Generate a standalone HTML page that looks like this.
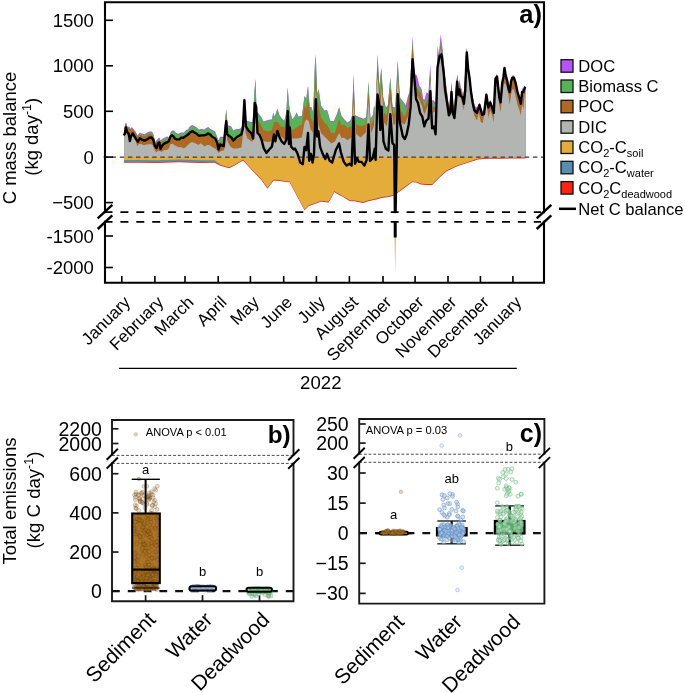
<!DOCTYPE html>
<html><head><meta charset="utf-8"><style>
html,body{margin:0;padding:0;background:#fff;}
svg{display:block;font-family:"Liberation Sans",sans-serif;will-change:transform;}
text{fill:#000;}
</style></head><body>
<svg width="685" height="693" viewBox="0 0 685 693">
<rect width="685" height="693" fill="#fff"/>
<polygon fill="#B753FD" points="124.1,157.1 124.1,127.9 126,121.9 127.1,126.3 128.7,126.8 129.5,127.1 130.3,128.2 130.7,128.7 131.9,127.1 133.5,129 135.5,131.4 135.9,132.2 137.1,134.6 137.5,135.4 139,133.6 139.8,132.6 141.4,133.4 142.2,133.8 143.8,134.1 144.6,134.2 147,132.6 149.4,131.4 150.2,131.4 151.7,131.4 152.5,132.6 153.3,133.8 154.9,140.1 155.3,141.7 156.5,140.3 157.3,139.4 158.1,138.6 159.3,137.4 159.7,138.3 160.5,140.2 161.3,139.7 162.9,138.6 164.4,137.8 166,137 167,136.2 167.4,136.5 167.6,136.7 169,137.8 169.4,136.4 170.6,132.2 172.1,130.6 172.9,130.6 174.1,130.6 175.3,132 176.1,133 178.5,133.8 180.9,132.6 184,132.6 186.4,129.8 188,129.4 188.8,128 189.6,126.7 192,125.1 194.4,125.9 196.7,127.5 198.3,128.8 199.1,129.4 199.9,129.3 200.7,129.1 201.5,129 202.3,129.1 203.1,129.3 203.9,129.4 204.7,128.9 206.3,127.9 207.1,127.6 208.3,127.1 209.4,128 210.6,129 211,129.2 212.6,130.1 213.4,130.6 215,131.4 215.1,131.4 217.1,136.5 218.6,140.5 220.2,136.5 223.7,137 225.2,120.3 226.2,108.7 227.2,120.3 228.2,125.4 230.3,126.1 231.3,126.4 233.3,130.4 235.3,129.4 236.3,128.9 237.3,128.9 239.3,128.9 241.4,127.4 241.9,126 242.4,124.7 242.9,123.3 244.4,97.1 245.4,112.6 245.9,120.3 246.4,120.5 247.4,120.9 248.4,121.3 249.4,121.5 250.5,121.8 252.5,122.3 253.4,110 254.5,90 254.8,86.5 255.5,78.2 256.2,99.1 256.6,111.1 257.5,112.2 258.2,113 258.9,113.8 261,116.6 263.7,121.4 267.8,120 271.9,119.3 273.3,112.5 274,114.5 274.7,116.6 277.4,108.4 279.5,115.2 280.8,117 281.5,117.9 284.2,120.7 284.9,118 286.3,112.5 287,99.8 287.7,87.1 288.4,96.3 289,104.2 289.7,108.3 290.4,112.5 292.5,119.3 294.5,116.6 296.6,112.5 296.7,112.3 298.5,116.6 301.9,115.7 304.5,95.8 306.2,98.4 308,85.5 308.8,95.7 309.7,107.1 310.6,107.1 311.4,107.1 313.2,112.3 314.9,63.8 315.8,54.3 317,93.3 318.4,89.7 318.7,88.9 321,105.4 324.4,110.6 327,109.7 327.9,112.6 330.5,120.9 331.3,120.9 333.9,120.9 334.8,118.8 336.5,114.9 339.1,107.1 341.4,115.7 341.7,116.1 343.8,118.8 347.5,122.5 350.3,120.6 351.3,117.7 352.2,115 353.5,73.8 355,115 355.9,115.4 358.8,116.9 360.6,117.6 363.4,118.8 366.3,116.9 368.5,81.3 370.4,118.8 370.9,118 372.8,115 373.8,107.8 374.1,105.6 375.6,109.4 377.5,54.1 379.4,86.9 380.3,77.6 381.3,67.2 381.6,72.1 383.1,96.3 384.1,100.3 385.9,107.5 386.9,106.5 387.8,105.6 390.3,77.5 392.5,106.6 393.4,106.9 395.3,107.5 395.5,103.6 397.7,60.1 399.9,97.2 400.9,98.5 402.8,101.1 404.8,103.8 405.7,105 407.7,97.2 408.7,94.1 409.6,91.3 412.6,37.6 412.7,35.8 414.1,67.9 414.5,70.3 415.4,75.6 415.5,75.6 416.7,75 418,79.5 419.3,86 420.4,87.1 420.6,87.3 421.9,90 423.2,99 424.3,99.6 424.5,99.7 426.4,92.5 428.2,93.1 428.4,93.2 430.3,64 431.6,100.3 433,100.3 433.6,100.3 435.5,102.9 436,89.4 436.8,67.9 437.5,45.8 437.9,48.2 438.9,54.3 440.7,34.2 440.8,35 442.8,50.4 443.8,61.6 445,75.1 445.5,79.1 446.3,85.5 447.6,95.6 448.3,101.1 449.6,106.3 450.9,89.4 451.2,85.5 451.5,81.6 452.8,102.4 454.1,106.3 454.4,102.8 456.1,82.9 457.4,73.8 458.7,86.8 459.6,79 460,82.1 460.6,86.8 461.9,89.4 463.2,95.9 463.9,90.3 464.5,85.5 465.2,69.4 465.8,55.6 466.8,47.2 468.4,66 469.7,73.8 470.4,80.8 471,86.8 472.3,93.6 473,97.2 474.3,103.4 474.9,106.3 476.9,107.3 477.5,107.6 478.8,104.2 479.5,102.4 480.8,107 482.1,111.5 482.7,110.7 484,108.9 484.7,103 486,92 486.6,94.9 487.6,99.8 488.3,101.9 488.9,103.7 490.2,100.5 490.5,99.8 492.2,105 493.5,109.2 493.8,110.2 495.4,79 496.7,73.8 498,79 499.3,92 500.6,101.1 502.2,81.6 503.2,73.8 503.9,70 504.5,66.7 505.2,70.5 505.8,73.8 506.5,74.5 507.1,75.1 508.4,82.9 509.7,90.7 511,80.3 512.3,75.8 513.9,75.1 515.6,80.3 517.5,88.1 519.5,97.2 520.8,99.8 522.1,88.1 523.4,89.4 524.7,85.5 525.3,86.8 525.3,157.1"/>
<polygon fill="#54B456" points="124.1,157.1 124.1,128.9 126,122.9 127.1,127.3 128.7,127.8 129.5,128.1 130.3,129.2 130.7,129.7 131.9,128.1 133.5,130 135.5,132.4 135.9,133.2 137.1,135.6 137.5,136.4 139,134.6 139.8,133.6 141.4,134.4 142.2,134.8 143.8,135.1 144.6,135.2 147,133.6 149.4,132.4 150.2,132.4 151.7,132.4 152.5,133.6 153.3,134.8 154.9,141.1 155.3,142.7 156.5,141.3 157.3,140.4 158.1,139.6 159.3,138.4 159.7,139.3 160.5,141.2 161.3,140.7 162.9,139.6 164.4,138.8 166,138 167,137.2 167.4,137.5 167.6,137.7 169,138.8 169.4,137.4 170.6,133.2 172.1,131.6 172.9,131.6 174.1,131.6 175.3,133 176.1,134 178.5,134.8 180.9,133.6 184,133.6 186.4,130.8 188,130.4 188.8,129 189.6,127.7 192,126.1 194.4,126.9 196.7,128.5 198.3,129.8 199.1,130.4 199.9,130.3 200.7,130.1 201.5,130 202.3,130.1 203.1,130.3 203.9,130.4 204.7,129.9 206.3,128.9 207.1,128.6 208.3,128.1 209.4,129 210.6,130 211,130.2 212.6,131.1 213.4,131.6 215,132.4 215.1,132.4 217.1,137.5 218.6,141.5 220.2,137.5 223.7,138 225.2,121.3 226.2,109.7 227.2,121.3 228.2,126.4 230.3,127.1 231.3,127.4 233.3,131.4 235.3,130.4 236.3,129.9 237.3,129.9 239.3,129.9 241.4,128.4 241.9,127 242.4,125.7 242.9,124.3 244.4,98.1 245.4,113.6 245.9,121.3 246.4,121.5 247.4,121.9 248.4,122.3 249.4,122.5 250.5,122.8 252.5,123.3 253.4,111 254.5,91 254.8,87.5 255.5,79.2 256.2,100.1 256.6,112.1 257.5,113.2 258.2,114 258.9,114.8 261,117.6 263.7,122.4 267.8,121 271.9,120.3 273.3,113.5 274,115.5 274.7,117.6 277.4,109.4 279.5,116.2 280.8,118 281.5,118.9 284.2,121.7 284.9,119 286.3,113.5 287,100.8 287.7,88.1 288.4,97.3 289,105.2 289.7,109.3 290.4,113.5 292.5,120.3 294.5,117.6 296.6,113.5 296.7,113.3 298.5,117.6 301.9,116.7 304.5,96.8 306.2,99.4 308,86.5 308.8,96.7 309.7,108.1 310.6,108.1 311.4,108.1 313.2,113.3 314.9,64.8 315.8,55.3 317,94.3 318.4,90.7 318.7,89.9 321,106.4 324.4,111.6 327,110.7 327.9,113.6 330.5,121.9 331.3,121.9 333.9,121.9 334.8,119.8 336.5,115.9 339.1,108.1 341.4,116.7 341.7,117.1 343.8,119.8 347.5,123.5 350.3,121.6 351.3,118.7 352.2,116 353.5,74.8 355,116 355.9,116.4 358.8,117.9 360.6,118.6 363.4,119.8 366.3,117.9 368.5,82.3 370.4,119.8 370.9,119 372.8,116 373.8,108.8 374.1,106.6 375.6,110.4 377.5,55.1 379.4,87.9 380.3,78.6 381.3,68.2 381.6,73.1 383.1,97.3 384.1,101.3 385.9,108.5 386.9,107.5 387.8,106.6 390.3,78.5 392.5,107.6 393.4,107.9 395.3,108.5 395.5,104.6 397.7,61.1 399.9,98.2 400.9,99.5 402.8,102.1 404.8,104.8 405.7,111.2 407.7,104.4 408.7,95.9 409.6,93.1 412.6,39.6 412.7,43.4 414.1,69.7 414.5,72.1 415.4,81.6 415.5,83 416.7,84.9 418,87 419.3,88 420.4,89.1 420.6,89.3 421.9,96 423.2,101 424.3,101.6 424.5,101.7 426.4,100.2 428.2,95.1 428.4,95.2 430.3,71.3 431.6,102.1 433,102.3 433.6,102.3 435.5,104.9 436,104.4 436.8,84.7 437.5,67.5 437.9,57.6 438.9,56.1 440.7,42.5 440.8,42 442.8,52.4 443.8,63.6 445,77.1 445.5,81.1 446.3,87.5 447.6,97.6 448.3,103.1 449.6,108.3 450.9,91.4 451.2,87.5 451.5,83.6 452.8,104.4 454.1,108.3 454.4,104.8 456.1,84.9 457.4,75.8 458.7,88.8 459.6,81 460,84.1 460.6,88.8 461.9,91.4 463.2,97.9 463.9,92.3 464.5,87.5 465.2,71.4 465.8,57.6 466.8,49.2 468.4,68 469.7,75.8 470.4,82.8 471,88.8 472.3,95.6 473,99.2 474.3,105.4 474.9,108.3 476.9,109.3 477.5,109.6 478.8,106.2 479.5,104.4 480.8,109 482.1,113.5 482.7,112.7 484,110.9 484.7,105 486,94 486.6,96.9 487.6,101.8 488.3,103.9 488.9,105.7 490.2,102.5 490.5,101.8 492.2,107 493.5,111.2 493.8,112.2 495.4,81 496.7,75.8 498,81 499.3,94 500.6,103.1 502.2,83.6 503.2,75.8 503.9,72 504.5,68.7 505.2,72.5 505.8,75.8 506.5,76.5 507.1,77.1 508.4,84.9 509.7,92.7 511,82.3 512.3,77.8 513.9,77.1 515.6,82.3 517.5,90.1 519.5,99.2 520.8,101.8 522.1,90.1 523.4,91.4 524.7,87.5 525.3,88.8 525.3,157.1"/>
<polygon fill="#AE6923" points="124.1,157.1 124.1,129 126,123.5 127.1,127.9 128.7,128.6 129.5,129 130.3,129.2 130.7,129.7 131.9,128.3 133.5,130.6 135.5,133.3 135.9,133.8 137.1,136.2 137.5,137 139,135.4 139.8,134.6 141.4,135.4 142.2,135.8 143.8,136.1 144.6,136.2 147,135 149.4,134.2 150.2,134.2 151.7,134.2 152.5,135.2 153.3,136.2 154.9,141.6 155.3,142.9 156.5,142.2 157.3,141.7 158.1,141.3 159.3,140.6 159.7,141 160.5,141.7 161.3,142.5 162.9,141.7 164.4,141 166,140.8 167,140.7 167.4,140.6 167.6,140.3 169,138.8 169.4,137.4 170.6,135.4 172.1,134.6 172.9,135.2 174.1,136.2 175.3,137.6 176.1,138.6 178.5,139.4 180.9,137.8 184,137.4 186.4,136.2 188,135.1 188.8,134.6 189.6,133.9 192,131.8 194.4,133 196.7,134.6 198.3,135.4 199.1,135.8 199.9,136.2 200.7,135.9 201.5,135.7 202.3,135.4 203.1,135.5 203.9,135.7 204.7,135.8 206.3,134.9 207.1,134.5 208.3,133.8 209.4,134.5 210.6,135.2 211,135.4 212.6,136.5 213.4,137.1 215,138.2 215.1,138.4 217.1,142.5 218.6,142.5 220.2,142.5 223.7,142.5 225.2,128 226.2,116.3 227.2,128 228.2,134.4 230.3,136.5 231.3,137.5 233.3,138.5 235.3,139.5 236.3,139.2 237.3,139 239.3,138.5 241.4,132 241.9,130.4 242.4,125.7 242.9,124.3 244.4,102.1 245.4,115.2 245.9,121.8 246.4,128.4 247.4,129.1 248.4,129.7 249.4,130.4 250.5,131.1 252.5,132.5 253.4,120.1 254.5,105 254.8,102.7 255.5,97.4 256.2,105.6 256.6,112.1 257.5,120.7 258.2,121.5 258.9,122.3 261,124.8 263.7,130.3 267.8,131.6 271.9,130.3 273.3,124.8 274,122.1 274.7,122.1 277.4,122.1 279.5,124.6 280.8,126.2 281.5,126.5 284.2,127.5 284.9,124.2 286.3,117.7 287,114.4 287.7,111.1 288.4,115.9 289,120 289.7,124.8 290.4,126.2 292.5,130.3 294.5,128.9 296.6,127.5 296.7,127.4 298.5,126.1 301.9,124.4 304.5,105.4 306.2,108.8 308,98.4 308.8,104.3 309.7,110.9 310.6,117.5 311.4,119.1 313.2,122.7 314.9,86.5 315.8,67.3 317,94.3 318.4,105.4 318.7,106.8 321,117.5 324.4,122.7 327,125.2 327.9,126.1 330.5,131.4 331.3,133 333.9,133 334.8,133 336.5,127.5 339.1,119.2 341.4,125.3 341.7,126.1 343.8,124.4 347.5,128.1 350.3,126.8 351.3,126.3 352.2,116 353.5,86.9 355,116 355.9,124.4 358.8,125.6 360.6,126.3 363.4,125.4 366.3,124.4 368.5,92.5 370.4,119.8 370.9,126.3 372.8,121.4 373.8,118.8 374.1,114.4 375.6,110.4 377.5,64.4 379.4,87.9 380.3,98.1 381.3,82.3 381.6,77.5 383.1,98.9 384.1,113.1 385.9,114.3 386.9,115 387.8,108.1 390.3,88.8 392.5,107.6 393.4,115 395.3,111.4 395.5,111 397.7,73.8 399.9,99.2 400.9,110.8 402.8,113.7 404.8,116.7 405.7,113.7 407.7,106.9 408.7,95.9 409.6,93.1 412.6,44.5 412.7,45.9 414.1,69.7 414.5,72.1 415.4,84.1 415.5,85.5 416.7,87.4 418,89.5 419.3,91.5 420.4,93.3 420.6,94 421.9,98.5 423.2,103.1 424.3,106.9 424.5,106.5 426.4,102.7 428.2,99.1 428.4,96.7 430.3,73.8 431.6,102.1 433,106.9 433.6,106.9 435.5,106.9 436,106.9 436.8,87.2 437.5,70 437.9,60.1 438.9,56.1 440.7,45 440.8,44.5 442.8,57.5 443.8,64 445,77.1 445.5,81.1 446.3,87.5 447.6,97.6 448.3,103.1 449.6,108.3 450.9,91.4 451.2,87.5 451.5,83.6 452.8,104.4 454.1,108.3 454.4,104.8 456.1,84.9 457.4,75.8 458.7,88.8 459.6,81 460,84.1 460.6,88.8 461.9,91.4 463.2,97.9 463.9,92.3 464.5,87.5 465.2,71.4 465.8,57.6 466.8,49.2 468.4,68 469.7,75.8 470.4,82.8 471,88.8 472.3,95.6 473,99.2 474.3,105.4 474.9,108.3 476.9,109.3 477.5,109.6 478.8,106.2 479.5,104.4 480.8,109 482.1,113.5 482.7,112.7 484,110.9 484.7,105 486,94 486.6,96.9 487.6,101.8 488.3,103.9 488.9,105.7 490.2,102.5 490.5,101.8 492.2,107 493.5,111.2 493.8,112.2 495.4,81 496.7,75.8 498,81 499.3,94 500.6,103.1 502.2,83.6 503.2,75.8 503.9,72 504.5,68.7 505.2,72.5 505.8,75.8 506.5,76.5 507.1,77.1 508.4,84.9 509.7,92.7 511,82.3 512.3,77.8 513.9,77.1 515.6,82.3 517.5,90.1 519.5,99.2 520.8,101.8 522.1,90.1 523.4,91.4 524.7,87.5 525.3,88.8 525.3,157.1"/>
<polygon fill="#B3B5B3" points="124.1,157.1 124.1,137 126,129.8 127.1,134.2 128.7,136.2 129.5,135 130.3,133.8 130.7,134.2 131.9,135.4 133.5,137.8 135.5,141 135.9,141.7 137.1,146.1 137.5,145.7 139,144.1 139.8,144.1 141.4,144.1 142.2,144.5 143.8,145.3 144.6,145.1 147,144.5 149.4,144.2 150.2,144.1 151.7,144.6 152.5,144.9 153.3,146.8 154.9,150.5 155.3,151 156.5,152.5 157.3,151.5 158.1,150.5 159.3,151.1 159.7,151.3 160.5,151.5 161.3,151.7 162.9,150.9 164.4,150.1 166,149.9 167,149.8 167.4,149.7 167.6,149.7 169,148.1 169.4,147.1 170.6,144.1 172.1,144.1 172.9,144.1 174.1,144.9 175.3,145.7 176.1,146.1 178.5,147.3 180.9,146.9 184,148.5 186.4,146.5 188,144.9 188.8,144.1 189.6,143.3 192,142.1 194.4,142.9 196.7,144.1 198.3,144.9 199.1,144.4 199.9,143.8 200.7,143.3 201.5,143.8 202.3,144.4 203.1,144.9 203.9,145.7 204.7,146.5 206.3,145.4 207.1,144.9 208.3,144.9 209.4,144.9 210.6,145.8 211,146.1 212.6,147.3 213.4,147.7 215,148.5 215.1,148.6 217.1,150.6 218.6,153.1 220.2,151.6 223.7,150.6 225.2,146.6 226.2,120.3 227.2,140.5 228.2,142.5 230.3,146.6 231.3,147.3 233.3,148.6 235.3,148.6 236.3,148.6 237.3,148.6 239.3,148.1 241.4,147.6 241.9,143.6 242.4,139.5 242.9,130.7 244.4,104.1 245.4,132.4 245.9,133.9 246.4,135.4 247.4,138.5 248.4,139.1 249.4,139.8 250.5,140.5 252.5,142 253.4,137.1 254.5,116.7 254.8,111.1 255.5,119.3 256.2,127.5 256.6,128.9 257.5,132 258.2,134.4 258.9,135.4 261,138.5 263.7,141.2 267.8,141.9 271.9,141.2 273.3,136.7 274,134.4 274.7,133.8 277.4,131.6 279.5,134.4 280.8,136.2 281.5,137.1 284.2,139.3 284.9,139.9 286.3,131.6 287,127.5 287.7,119.3 288.4,111.1 289,122.5 289.7,135.8 290.4,136.5 292.5,138.5 294.5,138.5 296.6,138.5 296.7,138.5 298.5,138.2 301.9,137.4 304.5,122.7 306.2,119.2 308,120.4 308.8,120.9 309.7,125.2 310.6,129.6 311.4,130.6 313.2,133 314.9,103.6 315.8,88.1 317,104.9 318.4,124.4 318.7,125.4 321,133 324.4,136.5 327,139.1 327.9,140 330.5,142.6 331.3,143.4 333.9,142.1 334.8,141.7 336.5,138.3 339.1,133 341.4,137.6 341.7,138.2 343.8,137.5 347.5,140.3 350.3,138.2 351.3,137.5 352.2,122.9 353.5,101.9 355,121.8 355.9,133.8 358.8,136.1 360.6,137.5 363.4,134.7 366.3,131.9 368.5,101.9 370.4,127.2 370.9,133.8 372.8,128.9 373.8,126.3 374.1,122.2 375.6,101.6 377.5,75.6 379.4,99.8 380.3,111.3 381.3,92.5 381.6,86.9 383.1,108.3 384.1,122.5 385.9,124.9 386.9,126.3 387.8,119.3 390.3,100 392.5,117.3 393.4,124.4 395.3,124.5 395.5,124.5 397.7,77.7 399.9,108.5 400.9,122.5 402.8,123.5 404.8,124.5 405.7,122.2 407.7,117.2 408.7,114.7 409.6,101.2 412.6,56.2 412.7,57.7 414.1,78.9 414.5,85 415.4,92.9 415.5,93.8 416.7,95.3 418,97 419.3,99.8 420.4,102.2 420.6,102.7 421.9,105.5 423.2,110.5 424.3,114.7 424.5,114.2 426.4,109.5 428.2,105 428.4,102.6 430.3,79.6 431.6,95.6 433,112.8 433.6,112.4 435.5,111.1 436,110.8 436.8,93.6 437.5,78.5 437.9,69.9 438.9,62.5 440.7,49.1 440.8,48.4 442.8,62.7 443.8,69.9 445,84.1 445.5,90 446.3,96.7 447.6,107.6 448.3,110.3 449.6,115.4 450.9,99.6 451.2,95.9 451.5,99.1 452.8,112.8 454.1,117 454.4,118 456.1,94.6 457.4,88.1 458.7,98.5 459.6,96.7 460,95.9 460.6,98 461.9,102.4 463.2,107.5 463.9,110.2 464.5,103.6 465.2,95.9 465.8,81.3 466.8,56.9 468.4,79 469.7,85.8 470.4,89.4 471,94.3 472.3,105 473,108.6 474.3,115.4 474.9,116.6 476.9,120.6 477.5,118.1 478.8,112.8 479.5,116 480.8,121.9 482.1,122.8 482.7,123.2 484,116.4 484.7,112.8 486,104.7 486.6,101 487.6,111 488.3,118 488.9,115.5 490.2,110.2 490.5,111 492.2,115.4 493.5,122.6 493.8,117.4 495.4,89.4 496.7,85.5 498,94.6 499.3,105 500.6,112.8 502.2,94.6 503.2,88.5 503.9,84.2 504.5,83.6 505.2,82.9 505.8,84.7 506.5,86.8 507.1,89.3 508.4,94.6 509.7,105 511,94.6 512.3,89.4 513.9,89.4 515.6,95.9 517.5,105 519.5,110.2 520.8,115.4 522.1,105 523.4,108.9 524.7,94.6 525.3,93.3 525.3,157.1"/>
<polygon fill="#FD2212" points="124,157.1 124,162.8 140,162.8 156,163.1 179,162.2 200,163.1 214.6,162.8 218,164.6 221,166 229.2,168.2 235,165.3 243.1,160.5 254,172.6 261.3,179.9 267.4,188.7 273.7,180.4 279.6,181 284.4,181.8 289.6,182.3 304.5,210.3 308.9,205.9 313.3,204.6 316.8,203.3 321.2,201.5 323.8,202 328.2,202.4 330.4,199.8 334.3,191.9 336.1,193.2 340,195.4 342,196.3 349.9,201.2 354.3,201.2 363,202.9 368.3,201.2 376.2,199.4 382.3,197.7 387.6,197.2 392.8,195.9 395.4,194.5 405.1,187.5 412.1,182.3 416.5,182.6 420.8,184.4 426.1,184.9 432.2,184.9 440.1,177 447.1,170.9 457.8,166.1 467.9,162.8 478,159.4 488,158.7 501.5,158.7 524.3,158.4 525.3,158.4 525.3,157.1"/>
<polygon fill="#568EAE" points="124,157.1 124,162 140,162 156,162.3 179,161.4 200,162.3 214.6,162 218,163.8 221,165.2 229.2,167.4 235,164.5 243.1,159.7 254,171.8 261.3,179.1 267.4,187.9 273.7,179.6 279.6,180.2 284.4,181 289.6,181.5 304.5,209.5 308.9,205.1 313.3,203.8 316.8,202.5 321.2,200.7 323.8,201.2 328.2,201.6 330.4,199 334.3,191.1 336.1,192.4 340,194.6 342,195.5 349.9,200.4 354.3,200.4 363,202.1 368.3,200.4 376.2,198.6 382.3,196.9 387.6,196.4 392.8,195.1 395.4,193.7 405.1,186.7 412.1,181.5 416.5,181.8 420.8,183.6 426.1,184.1 432.2,184.1 440.1,176.2 447.1,170.1 457.8,165.3 467.9,162 478,158.6 488,157.9 501.5,157.9 524.3,157.6 525.3,157.6 525.3,157.1"/>
<polygon fill="#E4AC38" points="124,157.1 124,160 140,160 156,160.3 179,159.4 200,160.3 214.6,160.2 218,162.8 221,164.9 229.2,167.3 235,164.4 243.1,159.6 254,171.7 261.3,179 267.4,187.8 273.7,179.5 279.6,180.1 284.4,180.9 289.6,181.4 304.5,209.4 308.9,205 313.3,203.7 316.8,202.4 321.2,200.6 323.8,201.1 328.2,201.5 330.4,198.9 334.3,191 336.1,192.3 340,194.5 342,195.4 349.9,200.3 354.3,200.3 363,202 368.3,200.3 376.2,198.5 382.3,196.8 387.6,196.3 392.8,195 395.4,193.6 405.1,186.6 412.1,181.4 416.5,181.7 420.8,183.5 426.1,184 432.2,184 440.1,176.1 447.1,170 457.8,165.2 467.9,161.9 478,158.5 488,157.8 501.5,157.8 524.3,157.5 525.3,157.5 525.3,157.1"/>
<polygon fill="#E4AC38" points="393.8,157 396.6,157 395.2,212"/>
<line x1="103.6" y1="157.1" x2="544" y2="157.1" stroke="#3a3a3a" stroke-width="1.1" stroke-dasharray="4.4 3.7"/>
<polyline fill="none" stroke="#000" stroke-width="2.4" stroke-linejoin="round" points="123.6,135.4 124.8,133.8 126,127.5 127.1,132.2 128.7,133.8 129.9,141 131.1,136.2 132.7,133.4 134.3,136.2 135.9,138.6 137.9,141.7 139.8,138.2 142.2,139.8 144.6,140.6 147,139.4 149.4,137.8 151.7,137.4 153.3,140.2 154.9,146.1 156.5,148.1 158.1,143.3 159.3,142.5 160.5,148.9 162.1,145.7 164.4,143.3 166.8,142.5 168.8,141.3 170.2,137 171.7,135.4 173.3,136.2 174.9,138.6 176.9,139.4 179.3,139.4 180.9,137.8 183.3,137.8 185.6,136.2 188,134.6 190.4,132.2 192.4,131 194.4,132.6 196.7,133.8 199.1,135.8 201.5,135.4 203.9,135.4 206.3,134.6 208.3,133.4 210.2,134.6 212.6,137 215,138.2 217.1,142.5 218.6,149.6 220.2,144.5 222.2,145.6 223.7,146.1 225.2,130.4 226.2,121.3 227.2,134.4 229.2,136 231.3,137.5 233.3,140.5 236.3,137.5 239.3,135.5 241.4,134.4 242.9,128.4 244.4,100.1 245.9,126.4 248.4,130.4 251.5,133.4 253.2,138.5 254.8,102.9 256.2,107 257.5,133 259.6,135.1 261.6,139.9 263.7,148.1 266.4,152.9 269.2,149.5 271.9,146.7 274,134.4 275.3,141.2 277.4,131 279.5,137.1 281.5,141.2 284.2,144 286.3,139.9 287.7,111.1 289,144 289.7,127.5 291.1,146.7 293.8,149.5 295,148.6 297.6,153.8 300.2,162.5 302.8,164.2 304.5,146.9 306.2,150.3 308,133 309.2,160.7 310.9,153.8 312.6,162.5 314,153.8 315.8,99.3 317.1,136.5 318.4,131.3 320.1,146.9 322.7,153.8 325.3,159 327,153.8 329.6,160.7 332.2,162.5 335.7,150.3 339.1,143.4 340.8,152.1 343.8,161.9 346.6,165.6 349.4,163.8 351.6,165.6 353.5,116.9 355,163.8 356.9,158.1 358.8,161.9 361.6,161.9 364.4,165.6 366.6,160 368.5,124.4 370,160.9 372.8,158.1 374.7,148.8 375.6,160 377.5,94.4 379.4,105.6 380.3,130 381.6,106.6 383.5,141.3 385.9,148.8 388.4,150.6 390.3,114.1 392.5,143.1 394.2,145 394.9,212 395.6,212 397.7,94.2 399.9,122.5 402.8,136.2 404.8,139.1 406.7,134.2 408.7,124.5 410.6,106.9 412.6,59.1 414.5,79.6 416.1,99.1 418,103 420,112.8 422.3,116.7 424.3,126.4 426.2,120.6 428.5,118.6 430.3,91.3 432.1,128.4 434,126.4 435.6,134.2 437.5,67.9 439.5,56.2 441.4,54.3 443.8,73.8 445,89.4 447,102.4 448.9,115.4 450.2,112.8 451.5,92 452.8,112.8 454.4,118 456.1,99.8 457.1,81.6 458,94.6 459.3,89.4 460.6,95.9 462.6,97.2 463.9,103.7 465.2,90.7 466.8,52.4 468.1,68.6 469.7,79 471,92 472.6,102.4 474.3,110.2 476.9,112.8 479.5,105 482.1,114.8 484,114.1 486.4,94.6 488.3,107.6 490.2,102.4 492.2,107.6 493.8,112.8 495.4,79 497,76.4 498,85.5 499.3,97.2 500.6,102.4 502.2,82.9 503.5,76.4 504.5,68 505.8,76.4 507.1,80.3 508.4,88.1 509.7,92 511,81.6 512.3,77.7 513.9,77.7 515.6,82.9 517.5,92 519.5,98.5 520.8,103.7 522.1,92 523.4,92 524.7,88.1 525.3,86.8"/>
<polygon fill="#E4AC38" points="394.3,222 396.1,222 395.2,274"/>
<line x1="395.2" y1="222" x2="395.2" y2="237.5" stroke="#000" stroke-width="3"/>
<line x1="104.5" y1="212.1" x2="541" y2="212.1" stroke="#000" stroke-width="1.8" stroke-dasharray="8 7.9"/>
<line x1="104.5" y1="221.9" x2="541" y2="221.9" stroke="#000" stroke-width="1.8" stroke-dasharray="8 7.9"/>
<path d="M105,212.1 V2.3 H544 V212.1 M105,221.9 V282.8 H544 V221.9" fill="none" stroke="#000" stroke-width="2.1" stroke-linecap="square"/>
<line x1="97.7" y1="218.4" x2="112.3" y2="204.8" stroke="#000" stroke-width="2.4"/>
<line x1="97.7" y1="229" x2="112.3" y2="215.4" stroke="#000" stroke-width="2.4"/>
<line x1="536.7" y1="218.4" x2="551.3" y2="204.8" stroke="#000" stroke-width="2.4"/>
<line x1="536.7" y1="229" x2="551.3" y2="215.4" stroke="#000" stroke-width="2.4"/>
<line x1="105" y1="20.3" x2="113" y2="20.3" stroke="#000" stroke-width="1.6"/>
<text x="93.8" y="26.9" font-size="18.5" text-anchor="end">1500</text>
<line x1="105" y1="65.8" x2="113" y2="65.8" stroke="#000" stroke-width="1.6"/>
<text x="93.8" y="72.4" font-size="18.5" text-anchor="end">1000</text>
<line x1="105" y1="111.3" x2="113" y2="111.3" stroke="#000" stroke-width="1.6"/>
<text x="93.8" y="117.9" font-size="18.5" text-anchor="end">500</text>
<line x1="105" y1="157.1" x2="113" y2="157.1" stroke="#000" stroke-width="1.6"/>
<text x="93.8" y="163.7" font-size="18.5" text-anchor="end">0</text>
<line x1="105" y1="202.6" x2="113" y2="202.6" stroke="#000" stroke-width="1.6"/>
<text x="93.8" y="209.2" font-size="18.5" text-anchor="end">−500</text>
<line x1="105" y1="236" x2="113" y2="236" stroke="#000" stroke-width="1.6"/>
<text x="93.8" y="242.6" font-size="18.5" text-anchor="end">-1500</text>
<line x1="105" y1="267.5" x2="113" y2="267.5" stroke="#000" stroke-width="1.6"/>
<text x="93.8" y="274.1" font-size="18.5" text-anchor="end">-2000</text>
<line x1="121.8" y1="282.8" x2="121.8" y2="276" stroke="#000" stroke-width="1.6"/>
<line x1="154.9" y1="282.8" x2="154.9" y2="276" stroke="#000" stroke-width="1.6"/>
<line x1="185" y1="282.8" x2="185" y2="276" stroke="#000" stroke-width="1.6"/>
<line x1="218.2" y1="282.8" x2="218.2" y2="276" stroke="#000" stroke-width="1.6"/>
<line x1="250.4" y1="282.8" x2="250.4" y2="276" stroke="#000" stroke-width="1.6"/>
<line x1="283.7" y1="282.8" x2="283.7" y2="276" stroke="#000" stroke-width="1.6"/>
<line x1="316.4" y1="282.8" x2="316.4" y2="276" stroke="#000" stroke-width="1.6"/>
<line x1="349.4" y1="282.8" x2="349.4" y2="276" stroke="#000" stroke-width="1.6"/>
<line x1="383" y1="282.8" x2="383" y2="276" stroke="#000" stroke-width="1.6"/>
<line x1="415.1" y1="282.8" x2="415.1" y2="276" stroke="#000" stroke-width="1.6"/>
<line x1="448" y1="282.8" x2="448" y2="276" stroke="#000" stroke-width="1.6"/>
<line x1="480.4" y1="282.8" x2="480.4" y2="276" stroke="#000" stroke-width="1.6"/>
<line x1="512.9" y1="282.8" x2="512.9" y2="276" stroke="#000" stroke-width="1.6"/>
<text x="131.4" y="303.2" font-size="17" text-anchor="end" transform="rotate(-45 131.4 303.2)">January</text>
<text x="164.5" y="303.2" font-size="17" text-anchor="end" transform="rotate(-45 164.5 303.2)">February</text>
<text x="194.6" y="303.2" font-size="17" text-anchor="end" transform="rotate(-45 194.6 303.2)">March</text>
<text x="227.8" y="303.2" font-size="17" text-anchor="end" transform="rotate(-45 227.8 303.2)">April</text>
<text x="260" y="303.2" font-size="17" text-anchor="end" transform="rotate(-45 260 303.2)">May</text>
<text x="293.3" y="303.2" font-size="17" text-anchor="end" transform="rotate(-45 293.3 303.2)">June</text>
<text x="326" y="303.2" font-size="17" text-anchor="end" transform="rotate(-45 326 303.2)">July</text>
<text x="359" y="303.2" font-size="17" text-anchor="end" transform="rotate(-45 359 303.2)">August</text>
<text x="392.6" y="303.2" font-size="17" text-anchor="end" transform="rotate(-45 392.6 303.2)">September</text>
<text x="424.7" y="303.2" font-size="17" text-anchor="end" transform="rotate(-45 424.7 303.2)">October</text>
<text x="457.6" y="303.2" font-size="17" text-anchor="end" transform="rotate(-45 457.6 303.2)">November</text>
<text x="490" y="303.2" font-size="17" text-anchor="end" transform="rotate(-45 490 303.2)">December</text>
<text x="522.5" y="303.2" font-size="17" text-anchor="end" transform="rotate(-45 522.5 303.2)">January</text>
<line x1="119.1" y1="368.4" x2="516.8" y2="368.4" stroke="#000" stroke-width="1.4"/>
<text x="320.8" y="389.3" font-size="18.6" text-anchor="middle">2022</text>
<text transform="translate(15.5 138) rotate(-90)" font-size="18.5" text-anchor="middle">C mass balance</text>
<text transform="translate(37.9 136.8) rotate(-90)" font-size="18.5" text-anchor="middle">(kg day<tspan font-size="12.5" dy="-7">-1</tspan><tspan dy="7">)</tspan></text>
<text x="542" y="22.5" font-size="25.5" font-weight="bold" text-anchor="end">a)</text>
<rect x="561" y="59.7" width="12" height="12.5" fill="#B753FD" stroke="#111" stroke-width="1.3"/>
<text x="578.3" y="71.8" font-size="16.6">DOC</text>
<rect x="561" y="80" width="12" height="12.5" fill="#54B456" stroke="#111" stroke-width="1.3"/>
<text x="578.3" y="92.1" font-size="16.6">Biomass C</text>
<rect x="561" y="100.3" width="12" height="12.5" fill="#AE6923" stroke="#111" stroke-width="1.3"/>
<text x="578.3" y="112.4" font-size="16.6">POC</text>
<rect x="561" y="120.7" width="12" height="12.5" fill="#B3B5B3" stroke="#111" stroke-width="1.3"/>
<text x="578.3" y="132.8" font-size="16.6">DIC</text>
<rect x="561" y="141" width="12" height="12.5" fill="#E4AC38" stroke="#111" stroke-width="1.3"/>
<text x="578.3" y="153.1" font-size="16.6">CO<tspan font-size="11" dy="4">2</tspan><tspan dy="-4">-C</tspan><tspan font-size="11" dy="4">soil</tspan></text>
<rect x="561" y="161.3" width="12" height="12.5" fill="#568EAE" stroke="#111" stroke-width="1.3"/>
<text x="578.3" y="173.4" font-size="16.6">CO<tspan font-size="11" dy="4">2</tspan><tspan dy="-4">-C</tspan><tspan font-size="11" dy="4">water</tspan></text>
<rect x="561" y="181.6" width="12" height="12.5" fill="#FD2212" stroke="#111" stroke-width="1.3"/>
<text x="578.3" y="193.7" font-size="16.6">CO<tspan font-size="11" dy="4">2</tspan><tspan dy="-4">C</tspan><tspan font-size="11" dy="4">deadwood</tspan></text>
<line x1="559" y1="208.8" x2="576" y2="208.8" stroke="#000" stroke-width="2.5"/>
<text x="578.3" y="214.9" font-size="16.6">Net C balance</text>
<path d="M112,454.6 V420 H293.5 V454.6 M112,463.4 V601.2 H293.5 V463.4" fill="none" stroke="#1a1a1a" stroke-width="1.9" stroke-linecap="square"/>
<line x1="112" y1="455.4" x2="293.5" y2="455.4" stroke="#333" stroke-width="0.9" stroke-dasharray="2.8 1.9"/>
<line x1="112" y1="463.4" x2="293.5" y2="463.4" stroke="#333" stroke-width="0.9" stroke-dasharray="2.8 1.9"/>
<line x1="106.7" y1="459.8" x2="117.9" y2="448.8" stroke="#000" stroke-width="1.9"/>
<line x1="106.7" y1="468.5" x2="117.9" y2="457.5" stroke="#000" stroke-width="1.9"/>
<line x1="288.2" y1="460.3" x2="299.4" y2="449.3" stroke="#000" stroke-width="1.9"/>
<line x1="288.2" y1="468.7" x2="299.4" y2="457.7" stroke="#000" stroke-width="1.9"/>
<line x1="112" y1="428.8" x2="118.5" y2="428.8" stroke="#1a1a1a" stroke-width="1.7"/>
<text x="101.9" y="435.8" font-size="19.5" text-anchor="end">2200</text>
<line x1="112" y1="443.5" x2="118.5" y2="443.5" stroke="#1a1a1a" stroke-width="1.7"/>
<text x="101.9" y="450.5" font-size="19.5" text-anchor="end">2000</text>
<line x1="112" y1="473.72" x2="118.5" y2="473.72" stroke="#1a1a1a" stroke-width="1.7"/>
<text x="101.9" y="480.7" font-size="19.5" text-anchor="end">600</text>
<line x1="112" y1="512.88" x2="118.5" y2="512.88" stroke="#1a1a1a" stroke-width="1.7"/>
<text x="101.9" y="519.9" font-size="19.5" text-anchor="end">400</text>
<line x1="112" y1="552.0400000000001" x2="118.5" y2="552.0400000000001" stroke="#1a1a1a" stroke-width="1.7"/>
<text x="101.9" y="559" font-size="19.5" text-anchor="end">200</text>
<line x1="112" y1="591.2" x2="118.5" y2="591.2" stroke="#1a1a1a" stroke-width="1.7"/>
<text x="101.9" y="598.2" font-size="19.5" text-anchor="end">0</text>
<line x1="145.6" y1="601.2" x2="145.6" y2="595.2" stroke="#1a1a1a" stroke-width="1.7"/>
<line x1="202.5" y1="601.2" x2="202.5" y2="595.2" stroke="#1a1a1a" stroke-width="1.7"/>
<line x1="259.5" y1="601.2" x2="259.5" y2="595.2" stroke="#1a1a1a" stroke-width="1.7"/>
<line x1="112" y1="591.2" x2="293.5" y2="591.2" stroke="#111" stroke-width="2.3" stroke-dasharray="7.8 8"/>
<rect x="132.2" y="513.5" width="27.6" height="69.6" fill="#AC7425"/>
<g fill="#AC7425" fill-opacity="0.22" stroke="#5a3c0c" stroke-opacity="0.4" stroke-width="0.6"><circle cx="151" cy="587.5" r="1.95"/><circle cx="153.8" cy="587" r="1.95"/><circle cx="150.1" cy="585.3" r="1.95"/><circle cx="156.3" cy="587.4" r="1.95"/><circle cx="145.4" cy="587.2" r="1.95"/><circle cx="156.4" cy="586.9" r="1.95"/><circle cx="135.7" cy="588.8" r="1.95"/><circle cx="138.9" cy="587.2" r="1.95"/><circle cx="146.2" cy="586.7" r="1.95"/><circle cx="140.6" cy="585.9" r="1.95"/><circle cx="151.1" cy="589.2" r="1.95"/><circle cx="148.9" cy="588.2" r="1.95"/><circle cx="146.1" cy="589.2" r="1.95"/><circle cx="153.8" cy="585.8" r="1.95"/><circle cx="147" cy="586.4" r="1.95"/><circle cx="141.1" cy="589.4" r="1.95"/><circle cx="142.7" cy="585" r="1.95"/><circle cx="153.9" cy="585.1" r="1.95"/><circle cx="155.2" cy="586.6" r="1.95"/><circle cx="138.6" cy="586.7" r="1.95"/><circle cx="154" cy="588.9" r="1.95"/><circle cx="156.8" cy="589.6" r="1.95"/><circle cx="146.2" cy="587.2" r="1.95"/><circle cx="147.4" cy="589.4" r="1.95"/><circle cx="138.4" cy="588.7" r="1.95"/><circle cx="146.5" cy="588.5" r="1.95"/><circle cx="145.7" cy="589.5" r="1.95"/><circle cx="148.1" cy="587.5" r="1.95"/><circle cx="134.3" cy="587.6" r="1.95"/><circle cx="156.9" cy="585.7" r="1.95"/><circle cx="146" cy="587.2" r="1.95"/><circle cx="143.2" cy="586.6" r="1.95"/><circle cx="152.8" cy="587.3" r="1.95"/><circle cx="147.1" cy="586.5" r="1.95"/><circle cx="145.4" cy="587.5" r="1.95"/><circle cx="150.2" cy="588.3" r="1.95"/><circle cx="135.2" cy="584.9" r="1.95"/><circle cx="146.5" cy="585" r="1.95"/><circle cx="143.5" cy="585.7" r="1.95"/><circle cx="156.6" cy="586.3" r="1.95"/><circle cx="155.8" cy="588.2" r="1.95"/><circle cx="140.1" cy="588.6" r="1.95"/><circle cx="145" cy="588.3" r="1.95"/><circle cx="136.6" cy="589.3" r="1.95"/><circle cx="144" cy="586" r="1.95"/><circle cx="153.2" cy="587.8" r="1.95"/><circle cx="155.2" cy="585.7" r="1.95"/><circle cx="145" cy="587.8" r="1.95"/><circle cx="141.2" cy="585.1" r="1.95"/><circle cx="138.2" cy="585.7" r="1.95"/><circle cx="148.4" cy="589.6" r="1.95"/><circle cx="155.8" cy="588.6" r="1.95"/><circle cx="136.7" cy="585.4" r="1.95"/><circle cx="152.3" cy="587.4" r="1.95"/><circle cx="134.1" cy="585" r="1.95"/><circle cx="138.3" cy="587.8" r="1.95"/><circle cx="139.1" cy="589.3" r="1.95"/><circle cx="150.1" cy="586.7" r="1.95"/><circle cx="141.3" cy="586" r="1.95"/><circle cx="142.1" cy="588.4" r="1.95"/><circle cx="148.5" cy="589.2" r="1.95"/><circle cx="136.1" cy="588.1" r="1.95"/><circle cx="151.1" cy="585.1" r="1.95"/><circle cx="136.5" cy="586.1" r="1.95"/><circle cx="145.9" cy="589.1" r="1.95"/><circle cx="139.6" cy="588.5" r="1.95"/><circle cx="138.3" cy="589.2" r="1.95"/><circle cx="146.3" cy="589.4" r="1.95"/><circle cx="144.1" cy="585.9" r="1.95"/><circle cx="142.6" cy="588.8" r="1.95"/><circle cx="143.5" cy="587" r="1.95"/><circle cx="146.3" cy="587.5" r="1.95"/><circle cx="137.4" cy="588.7" r="1.95"/><circle cx="138.5" cy="586.2" r="1.95"/><circle cx="148.8" cy="589" r="1.95"/><circle cx="148.9" cy="586.6" r="1.95"/><circle cx="146.3" cy="589.1" r="1.95"/><circle cx="154" cy="587.7" r="1.95"/><circle cx="148.3" cy="588.6" r="1.95"/><circle cx="154.2" cy="588.4" r="1.95"/><circle cx="139.2" cy="585.1" r="1.95"/><circle cx="151.4" cy="585.9" r="1.95"/><circle cx="153.1" cy="588.2" r="1.95"/><circle cx="155.3" cy="585.5" r="1.95"/><circle cx="141.2" cy="588.6" r="1.95"/><circle cx="141.2" cy="578" r="1.95"/><circle cx="155.7" cy="571.7" r="1.95"/><circle cx="138.8" cy="574.6" r="1.95"/><circle cx="157.6" cy="582" r="1.95"/><circle cx="154.9" cy="569.8" r="1.95"/><circle cx="136.8" cy="580.4" r="1.95"/><circle cx="139.3" cy="579.8" r="1.95"/><circle cx="151" cy="572.8" r="1.95"/><circle cx="139.8" cy="578.9" r="1.95"/><circle cx="135.9" cy="579.3" r="1.95"/><circle cx="153.6" cy="582.4" r="1.95"/><circle cx="143.7" cy="582.1" r="1.95"/><circle cx="152.6" cy="575.4" r="1.95"/><circle cx="136.6" cy="580" r="1.95"/><circle cx="143.3" cy="575.1" r="1.95"/><circle cx="150" cy="578.3" r="1.95"/><circle cx="134" cy="577.2" r="1.95"/><circle cx="138.4" cy="570.2" r="1.95"/><circle cx="150" cy="576.7" r="1.95"/><circle cx="155.5" cy="575.5" r="1.95"/><circle cx="156.8" cy="571.5" r="1.95"/><circle cx="136.4" cy="580.9" r="1.95"/><circle cx="145.7" cy="581.3" r="1.95"/><circle cx="151.8" cy="570.9" r="1.95"/><circle cx="145.7" cy="572.2" r="1.95"/><circle cx="150.1" cy="579.9" r="1.95"/><circle cx="138.1" cy="580.8" r="1.95"/><circle cx="135.3" cy="573.2" r="1.95"/><circle cx="136.1" cy="570.5" r="1.95"/><circle cx="134.5" cy="580.7" r="1.95"/><circle cx="146.8" cy="570.3" r="1.95"/><circle cx="146" cy="571.3" r="1.95"/><circle cx="147.2" cy="575.1" r="1.95"/><circle cx="137.1" cy="577.6" r="1.95"/><circle cx="138" cy="581.9" r="1.95"/><circle cx="138.5" cy="582.8" r="1.95"/><circle cx="153.8" cy="570.2" r="1.95"/><circle cx="157.4" cy="580.1" r="1.95"/><circle cx="155.8" cy="573.7" r="1.95"/><circle cx="135.9" cy="579.8" r="1.95"/><circle cx="135.1" cy="572.1" r="1.95"/><circle cx="156.4" cy="575.2" r="1.95"/><circle cx="144.7" cy="579.3" r="1.95"/><circle cx="152" cy="581" r="1.95"/><circle cx="141.4" cy="573.5" r="1.95"/><circle cx="144.8" cy="582.4" r="1.95"/><circle cx="146" cy="580.2" r="1.95"/><circle cx="143.9" cy="575.7" r="1.95"/><circle cx="148" cy="571.7" r="1.95"/><circle cx="133.9" cy="574.9" r="1.95"/><circle cx="150.4" cy="579.5" r="1.95"/><circle cx="153.9" cy="570.8" r="1.95"/><circle cx="138" cy="580.6" r="1.95"/><circle cx="144.5" cy="583.1" r="1.95"/><circle cx="151.3" cy="579.7" r="1.95"/><circle cx="143.3" cy="577.3" r="1.95"/><circle cx="138.3" cy="582.5" r="1.95"/><circle cx="137.6" cy="581" r="1.95"/><circle cx="145.9" cy="578.3" r="1.95"/><circle cx="134" cy="575.5" r="1.95"/><circle cx="155" cy="581.6" r="1.95"/><circle cx="152.8" cy="578.4" r="1.95"/><circle cx="150.5" cy="571.2" r="1.95"/><circle cx="154.3" cy="569.9" r="1.95"/><circle cx="148.7" cy="574.4" r="1.95"/><circle cx="143.3" cy="573.9" r="1.95"/><circle cx="148" cy="575.4" r="1.95"/><circle cx="145.7" cy="581.4" r="1.95"/><circle cx="157.2" cy="582.9" r="1.95"/><circle cx="152.9" cy="583.1" r="1.95"/><circle cx="139.8" cy="570.9" r="1.95"/><circle cx="155.5" cy="573.8" r="1.95"/><circle cx="151.5" cy="570.2" r="1.95"/><circle cx="152.3" cy="583.1" r="1.95"/><circle cx="153.2" cy="574.6" r="1.95"/><circle cx="143.3" cy="542.3" r="1.95"/><circle cx="155.1" cy="528.2" r="1.95"/><circle cx="154.7" cy="551.6" r="1.95"/><circle cx="150.3" cy="512.9" r="1.95"/><circle cx="152" cy="565.4" r="1.95"/><circle cx="152" cy="538.7" r="1.95"/><circle cx="143.3" cy="527.8" r="1.95"/><circle cx="150.9" cy="518.5" r="1.95"/><circle cx="135.3" cy="527.8" r="1.95"/><circle cx="141.8" cy="529.7" r="1.95"/><circle cx="144.9" cy="524.6" r="1.95"/><circle cx="133.9" cy="517.7" r="1.95"/><circle cx="142.1" cy="549.7" r="1.95"/><circle cx="148.9" cy="530.8" r="1.95"/><circle cx="148.6" cy="518.5" r="1.95"/><circle cx="139.2" cy="520.2" r="1.95"/><circle cx="156.3" cy="546" r="1.95"/><circle cx="149.6" cy="524.8" r="1.95"/><circle cx="141.7" cy="520.6" r="1.95"/><circle cx="149.4" cy="537.1" r="1.95"/><circle cx="147.3" cy="534.2" r="1.95"/><circle cx="146.4" cy="548" r="1.95"/><circle cx="143" cy="536.6" r="1.95"/><circle cx="157.6" cy="535.1" r="1.95"/><circle cx="149" cy="565.1" r="1.95"/><circle cx="150.4" cy="533.4" r="1.95"/><circle cx="151.9" cy="513.3" r="1.95"/><circle cx="157.1" cy="519.7" r="1.95"/><circle cx="134.1" cy="528.3" r="1.95"/><circle cx="148.4" cy="547.6" r="1.95"/><circle cx="151.3" cy="527.9" r="1.95"/><circle cx="139.8" cy="536.7" r="1.95"/><circle cx="143.2" cy="544.6" r="1.95"/><circle cx="134.8" cy="522.1" r="1.95"/><circle cx="138.3" cy="564.9" r="1.95"/><circle cx="142.6" cy="527.1" r="1.95"/><circle cx="136" cy="568" r="1.95"/><circle cx="139.6" cy="535.5" r="1.95"/><circle cx="155.3" cy="542.4" r="1.95"/><circle cx="146.8" cy="556.6" r="1.95"/><circle cx="145.8" cy="530" r="1.95"/><circle cx="156.8" cy="541.4" r="1.95"/><circle cx="147.2" cy="534.8" r="1.95"/><circle cx="157.5" cy="517.4" r="1.95"/><circle cx="148.9" cy="555.1" r="1.95"/><circle cx="153" cy="569" r="1.95"/><circle cx="135.4" cy="552.6" r="1.95"/><circle cx="147.9" cy="531.2" r="1.95"/><circle cx="151.8" cy="558.2" r="1.95"/><circle cx="134.7" cy="560" r="1.95"/><circle cx="155.9" cy="518.2" r="1.95"/><circle cx="137.4" cy="532.2" r="1.95"/><circle cx="144.9" cy="544.6" r="1.95"/><circle cx="137.7" cy="519" r="1.95"/><circle cx="145.5" cy="551.1" r="1.95"/><circle cx="148.3" cy="531.9" r="1.95"/><circle cx="135" cy="558.4" r="1.95"/><circle cx="156.3" cy="545.2" r="1.95"/><circle cx="143.7" cy="523.9" r="1.95"/><circle cx="146.2" cy="517.8" r="1.95"/><circle cx="147.9" cy="519.7" r="1.95"/><circle cx="142.4" cy="547.8" r="1.95"/><circle cx="140.5" cy="536.6" r="1.95"/><circle cx="149.3" cy="551.7" r="1.95"/><circle cx="147.1" cy="561.9" r="1.95"/><circle cx="140.4" cy="541.5" r="1.95"/><circle cx="150.8" cy="522.1" r="1.95"/><circle cx="140.7" cy="521.5" r="1.95"/><circle cx="133.9" cy="529.3" r="1.95"/><circle cx="139.5" cy="515.7" r="1.95"/><circle cx="134.6" cy="553.9" r="1.95"/><circle cx="137.4" cy="560.1" r="1.95"/><circle cx="151.7" cy="544.1" r="1.95"/><circle cx="143" cy="554" r="1.95"/><circle cx="155.1" cy="557.5" r="1.95"/><circle cx="151.6" cy="546.2" r="1.95"/><circle cx="134.8" cy="534.1" r="1.95"/><circle cx="157.3" cy="541.6" r="1.95"/><circle cx="156.3" cy="551.8" r="1.95"/><circle cx="135.4" cy="522" r="1.95"/><circle cx="155.3" cy="513.9" r="1.95"/><circle cx="143.9" cy="544" r="1.95"/><circle cx="145.1" cy="565.4" r="1.95"/><circle cx="157" cy="567.9" r="1.95"/><circle cx="139.4" cy="520.1" r="1.95"/><circle cx="146.2" cy="567.3" r="1.95"/><circle cx="156.1" cy="529.4" r="1.95"/><circle cx="150.9" cy="537.3" r="1.95"/><circle cx="144.8" cy="552.1" r="1.95"/><circle cx="157.1" cy="524.7" r="1.95"/><circle cx="153.2" cy="568.6" r="1.95"/><circle cx="148.1" cy="561.9" r="1.95"/><circle cx="136.4" cy="543.8" r="1.95"/><circle cx="148.6" cy="568.3" r="1.95"/><circle cx="144.5" cy="522.6" r="1.95"/><circle cx="138.5" cy="556.2" r="1.95"/><circle cx="134.8" cy="561.7" r="1.95"/><circle cx="146.3" cy="567" r="1.95"/><circle cx="136.6" cy="533.9" r="1.95"/><circle cx="144.2" cy="544.3" r="1.95"/><circle cx="149.6" cy="533.9" r="1.95"/><circle cx="144.5" cy="532.5" r="1.95"/><circle cx="139.9" cy="523.8" r="1.95"/><circle cx="147.6" cy="515.2" r="1.95"/><circle cx="143.7" cy="530.8" r="1.95"/><circle cx="152.3" cy="558.3" r="1.95"/><circle cx="146.3" cy="542.7" r="1.95"/><circle cx="157.5" cy="559.5" r="1.95"/><circle cx="156.5" cy="569.1" r="1.95"/><circle cx="151.2" cy="542.8" r="1.95"/><circle cx="139.3" cy="498.6" r="1.95"/><circle cx="136.3" cy="508.6" r="1.95"/><circle cx="155" cy="506.8" r="1.95"/><circle cx="152.4" cy="505.5" r="1.95"/><circle cx="148.6" cy="498.9" r="1.95"/><circle cx="142.2" cy="502.2" r="1.95"/><circle cx="140.1" cy="500.5" r="1.95"/><circle cx="150" cy="497.8" r="1.95"/><circle cx="147.2" cy="504.6" r="1.95"/><circle cx="147.8" cy="497.2" r="1.95"/><circle cx="148.8" cy="495" r="1.95"/><circle cx="151.7" cy="510.3" r="1.95"/><circle cx="138.2" cy="494.6" r="1.95"/><circle cx="139.6" cy="498.5" r="1.95"/><circle cx="157.1" cy="509.5" r="1.95"/><circle cx="155.6" cy="503.5" r="1.95"/><circle cx="154.7" cy="500.3" r="1.95"/><circle cx="134.5" cy="495" r="1.95"/><circle cx="135.1" cy="504.9" r="1.95"/><circle cx="140.1" cy="501.3" r="1.95"/><circle cx="143.8" cy="495.5" r="1.95"/><circle cx="148.6" cy="497.1" r="1.95"/><circle cx="136.1" cy="494.3" r="1.95"/><circle cx="146.6" cy="503.3" r="1.95"/><circle cx="135.3" cy="499.8" r="1.95"/><circle cx="135.7" cy="508.1" r="1.95"/><circle cx="149.8" cy="498.5" r="1.95"/><circle cx="146.8" cy="496.7" r="1.95"/><circle cx="148.7" cy="500" r="1.95"/><circle cx="142.6" cy="498.6" r="1.95"/><circle cx="145.1" cy="507.9" r="1.95"/><circle cx="138.7" cy="495.2" r="1.95"/><circle cx="141.8" cy="493.7" r="1.95"/><circle cx="151.5" cy="493.7" r="1.95"/><circle cx="153.7" cy="501.9" r="1.95"/><circle cx="135.4" cy="497.2" r="1.95"/><circle cx="136.5" cy="505.9" r="1.95"/><circle cx="153" cy="495" r="1.95"/><circle cx="148.6" cy="496" r="1.95"/><circle cx="152.1" cy="505.4" r="1.95"/><circle cx="138.7" cy="510.4" r="1.95"/><circle cx="143.8" cy="503.7" r="1.95"/><circle cx="139.8" cy="501.7" r="1.95"/><circle cx="153" cy="497.6" r="1.95"/><circle cx="142.5" cy="502.8" r="1.95"/><circle cx="149.3" cy="493" r="1.95"/><circle cx="157.3" cy="486.2" r="1.95"/><circle cx="141.4" cy="492.7" r="1.95"/><circle cx="146.8" cy="486.3" r="1.95"/><circle cx="151.5" cy="491.8" r="1.95"/><circle cx="155.7" cy="490.3" r="1.95"/><circle cx="143.9" cy="486.4" r="1.95"/><circle cx="142.5" cy="492.1" r="1.95"/><circle cx="135.9" cy="492" r="1.95"/><circle cx="154.6" cy="488.7" r="1.95"/></g>
<circle cx="139" cy="479" r="1.9" fill="#AC7425" fill-opacity="0.3" stroke="#5a3c0c" stroke-opacity="0.4" stroke-width="0.6"/>
<line x1="145.6" y1="479.3" x2="145.6" y2="513.5" stroke="#000" stroke-width="2"/>
<line x1="131.7" y1="479.3" x2="159.9" y2="479.3" stroke="#000" stroke-width="1.4"/>
<rect x="132.2" y="513.5" width="27.6" height="69.6" fill="none" stroke="#000" stroke-width="2.1"/>
<line x1="132.2" y1="569.6" x2="159.8" y2="569.6" stroke="#000" stroke-width="2.1"/>
<line x1="132" y1="588" x2="159.8" y2="588" stroke="#000" stroke-width="1.2" stroke-opacity="0.8"/>
<circle cx="135.8" cy="434.3" r="1.9" fill="#AC7425" fill-opacity="0.3" stroke="#5a3c0c" stroke-opacity="0.3" stroke-width="0.5"/>
<rect x="189.5" y="586.2" width="26.6" height="4.4" rx="2.2" fill="#7AA5D6"/>
<g fill="#bcd4ee" fill-opacity="0.5" stroke="#4f7fb8" stroke-opacity="0.6" stroke-width="0.5"><circle cx="192" cy="589.9" r="1.8"/><circle cx="201.5" cy="589.9" r="1.8"/><circle cx="204.5" cy="587.9" r="1.8"/><circle cx="212.3" cy="588.2" r="1.8"/><circle cx="191.4" cy="587.4" r="1.8"/><circle cx="193.1" cy="589" r="1.8"/><circle cx="194.9" cy="587" r="1.8"/><circle cx="195.7" cy="589.9" r="1.8"/><circle cx="196.1" cy="589.3" r="1.8"/><circle cx="207.7" cy="587.5" r="1.8"/><circle cx="204.8" cy="589.9" r="1.8"/><circle cx="195.9" cy="589" r="1.8"/><circle cx="194.9" cy="587.2" r="1.8"/><circle cx="197.2" cy="587.4" r="1.8"/><circle cx="194.6" cy="589.1" r="1.8"/><circle cx="208.7" cy="589.6" r="1.8"/><circle cx="198" cy="588.7" r="1.8"/><circle cx="203.7" cy="587.2" r="1.8"/><circle cx="210.1" cy="588.7" r="1.8"/><circle cx="202" cy="589.7" r="1.8"/><circle cx="196.8" cy="587.3" r="1.8"/><circle cx="211.8" cy="587.9" r="1.8"/><circle cx="212.4" cy="586.4" r="1.8"/><circle cx="198.7" cy="586.4" r="1.8"/><circle cx="203.6" cy="586.5" r="1.8"/><circle cx="213.5" cy="588.4" r="1.8"/><circle cx="202.1" cy="586.9" r="1.8"/><circle cx="195.8" cy="589" r="1.8"/><circle cx="191.7" cy="588.9" r="1.8"/><circle cx="213.2" cy="588.6" r="1.8"/><circle cx="209.7" cy="586.4" r="1.8"/><circle cx="199.7" cy="586.5" r="1.8"/><circle cx="203.2" cy="589.2" r="1.8"/><circle cx="202.9" cy="588.7" r="1.8"/><circle cx="197.1" cy="588.7" r="1.8"/><circle cx="214.3" cy="588.7" r="1.8"/><circle cx="206.3" cy="588.6" r="1.8"/><circle cx="196.2" cy="588.6" r="1.8"/><circle cx="190.8" cy="589.4" r="1.8"/><circle cx="201.8" cy="587.9" r="1.8"/><circle cx="199.4" cy="586.9" r="1.8"/><circle cx="209.6" cy="588" r="1.8"/><circle cx="207.6" cy="586.8" r="1.8"/><circle cx="205" cy="587.9" r="1.8"/><circle cx="194.3" cy="589.5" r="1.8"/><circle cx="194.3" cy="587.1" r="1.8"/><circle cx="198.2" cy="586.6" r="1.8"/><circle cx="196.7" cy="589.1" r="1.8"/><circle cx="211.4" cy="590.1" r="1.8"/><circle cx="202.9" cy="588.1" r="1.8"/><circle cx="205.8" cy="588" r="1.8"/><circle cx="214.3" cy="587.9" r="1.8"/><circle cx="196.9" cy="586.2" r="1.8"/><circle cx="203.3" cy="587.5" r="1.8"/><circle cx="194.1" cy="586.9" r="1.8"/><circle cx="209" cy="590" r="1.8"/><circle cx="190.5" cy="588" r="1.8"/><circle cx="210.2" cy="587" r="1.8"/><circle cx="210.8" cy="589.9" r="1.8"/><circle cx="210.2" cy="589.9" r="1.8"/><circle cx="192.5" cy="587.2" r="1.8"/><circle cx="197" cy="586.5" r="1.8"/><circle cx="207.7" cy="589.9" r="1.8"/><circle cx="192.8" cy="587.6" r="1.8"/><circle cx="202" cy="589.6" r="1.8"/><circle cx="201.7" cy="587.2" r="1.8"/><circle cx="213.4" cy="587.6" r="1.8"/><circle cx="204.6" cy="589.2" r="1.8"/><circle cx="211.1" cy="589.3" r="1.8"/><circle cx="197.8" cy="587.1" r="1.8"/><circle cx="209.4" cy="588.1" r="1.8"/><circle cx="200.5" cy="587.1" r="1.8"/><circle cx="212.5" cy="588.6" r="1.8"/><circle cx="192.7" cy="588.8" r="1.8"/><circle cx="210.3" cy="586.2" r="1.8"/><circle cx="195.5" cy="587.5" r="1.8"/><circle cx="203.5" cy="588.2" r="1.8"/><circle cx="203.1" cy="588" r="1.8"/><circle cx="194.3" cy="587.3" r="1.8"/><circle cx="210.5" cy="587.3" r="1.8"/><circle cx="198" cy="586.5" r="1.8"/><circle cx="198" cy="588.5" r="1.8"/><circle cx="192.3" cy="586.8" r="1.8"/><circle cx="197.8" cy="587.5" r="1.8"/><circle cx="201.7" cy="586.7" r="1.8"/><circle cx="207.7" cy="586.9" r="1.8"/><circle cx="199.1" cy="586.8" r="1.8"/><circle cx="207" cy="586.6" r="1.8"/><circle cx="193" cy="586.3" r="1.8"/><circle cx="200" cy="587.6" r="1.8"/><circle cx="201.6" cy="588.1" r="1.8"/><circle cx="213.7" cy="587.3" r="1.8"/><circle cx="210.4" cy="586.9" r="1.8"/><circle cx="206.2" cy="588.5" r="1.8"/><circle cx="190.8" cy="588.5" r="1.8"/><circle cx="199.6" cy="589.6" r="1.8"/><circle cx="207.5" cy="587.2" r="1.8"/><circle cx="196.2" cy="586.1" r="1.8"/><circle cx="204" cy="588.7" r="1.8"/><circle cx="201.5" cy="589.5" r="1.8"/><circle cx="190.8" cy="589.4" r="1.8"/><circle cx="214.3" cy="588.5" r="1.8"/><circle cx="209.7" cy="589" r="1.8"/><circle cx="195.5" cy="586.2" r="1.8"/><circle cx="205.3" cy="590" r="1.8"/><circle cx="197.5" cy="589" r="1.8"/><circle cx="199.5" cy="589.7" r="1.8"/><circle cx="203.5" cy="587.6" r="1.8"/><circle cx="197.7" cy="587" r="1.8"/><circle cx="198.6" cy="589.5" r="1.8"/></g>
<rect x="189.5" y="586.2" width="26.6" height="4.4" rx="2.2" fill="none" stroke="#000" stroke-width="2"/>
<rect x="246.5" y="587.8" width="25.4" height="4" rx="2" fill="#5AA86A"/>
<g fill="#9fd0aa" fill-opacity="0.45" stroke="#3f8a50" stroke-opacity="0.55" stroke-width="0.5"><circle cx="252.3" cy="590.8" r="1.8"/><circle cx="258.7" cy="589.8" r="1.8"/><circle cx="250.9" cy="591.4" r="1.8"/><circle cx="256.8" cy="591.6" r="1.8"/><circle cx="261.2" cy="589.5" r="1.8"/><circle cx="251.7" cy="591.1" r="1.8"/><circle cx="260" cy="588.7" r="1.8"/><circle cx="253.8" cy="590.2" r="1.8"/><circle cx="261.1" cy="589.5" r="1.8"/><circle cx="255.5" cy="591.1" r="1.8"/><circle cx="262.9" cy="589.1" r="1.8"/><circle cx="248.4" cy="592" r="1.8"/><circle cx="263.6" cy="591.8" r="1.8"/><circle cx="251" cy="592" r="1.8"/><circle cx="270.5" cy="589.7" r="1.8"/><circle cx="261.9" cy="589.6" r="1.8"/><circle cx="258.8" cy="591.7" r="1.8"/><circle cx="257.4" cy="590.8" r="1.8"/><circle cx="262.5" cy="589.1" r="1.8"/><circle cx="264" cy="590.1" r="1.8"/><circle cx="265.7" cy="592" r="1.8"/><circle cx="265.5" cy="591.5" r="1.8"/><circle cx="259.2" cy="591.8" r="1.8"/><circle cx="271.4" cy="591.9" r="1.8"/><circle cx="267.6" cy="590.8" r="1.8"/><circle cx="268" cy="592.1" r="1.8"/><circle cx="257.3" cy="588.8" r="1.8"/><circle cx="257.9" cy="590.7" r="1.8"/><circle cx="261.1" cy="590.4" r="1.8"/><circle cx="269.2" cy="589.8" r="1.8"/><circle cx="260.1" cy="589.4" r="1.8"/><circle cx="260.1" cy="589.2" r="1.8"/><circle cx="257.9" cy="590.9" r="1.8"/><circle cx="269.2" cy="591.1" r="1.8"/><circle cx="255.2" cy="590.8" r="1.8"/><circle cx="248.8" cy="592.3" r="1.8"/><circle cx="264.9" cy="590.8" r="1.8"/><circle cx="269.1" cy="589.6" r="1.8"/><circle cx="265.1" cy="588.5" r="1.8"/><circle cx="261.8" cy="589.3" r="1.8"/><circle cx="265.5" cy="589.8" r="1.8"/><circle cx="254.8" cy="590" r="1.8"/><circle cx="261.7" cy="592.3" r="1.8"/><circle cx="249.2" cy="591.1" r="1.8"/><circle cx="250.5" cy="591" r="1.8"/><circle cx="258.2" cy="589.8" r="1.8"/><circle cx="259.6" cy="592" r="1.8"/><circle cx="257" cy="590.9" r="1.8"/><circle cx="248.7" cy="590.4" r="1.8"/><circle cx="264.2" cy="589.3" r="1.8"/><circle cx="260.1" cy="589.1" r="1.8"/><circle cx="253.2" cy="590" r="1.8"/><circle cx="254.9" cy="591.8" r="1.8"/><circle cx="257" cy="589.4" r="1.8"/><circle cx="253.2" cy="588.8" r="1.8"/><circle cx="249.1" cy="590.2" r="1.8"/><circle cx="269.4" cy="591" r="1.8"/><circle cx="270.7" cy="590.4" r="1.8"/><circle cx="263.5" cy="591.8" r="1.8"/><circle cx="268.3" cy="589.6" r="1.8"/><circle cx="257.6" cy="588.5" r="1.8"/><circle cx="266.8" cy="590.4" r="1.8"/><circle cx="252.8" cy="589.6" r="1.8"/><circle cx="265.4" cy="589.1" r="1.8"/><circle cx="261.1" cy="591.6" r="1.8"/><circle cx="269.2" cy="588.7" r="1.8"/><circle cx="249.9" cy="589.9" r="1.8"/><circle cx="266.5" cy="591.6" r="1.8"/><circle cx="250.5" cy="592" r="1.8"/><circle cx="260.4" cy="591.4" r="1.8"/><circle cx="270.3" cy="590.1" r="1.8"/><circle cx="247.5" cy="589.6" r="1.8"/><circle cx="253.4" cy="591.1" r="1.8"/><circle cx="254.7" cy="588.7" r="1.8"/><circle cx="255.3" cy="591" r="1.8"/><circle cx="249" cy="590.6" r="1.8"/><circle cx="269" cy="591.9" r="1.8"/><circle cx="267.1" cy="588.6" r="1.8"/><circle cx="257" cy="591.8" r="1.8"/><circle cx="256.1" cy="588.8" r="1.8"/><circle cx="261.6" cy="590.2" r="1.8"/><circle cx="248.6" cy="590.2" r="1.8"/><circle cx="248.2" cy="590.2" r="1.8"/><circle cx="269.1" cy="591.3" r="1.8"/><circle cx="254.9" cy="588.8" r="1.8"/><circle cx="259.5" cy="588.5" r="1.8"/><circle cx="269.9" cy="589.2" r="1.8"/><circle cx="271" cy="590" r="1.8"/><circle cx="258.8" cy="591.9" r="1.8"/><circle cx="252.5" cy="589.1" r="1.8"/><circle cx="254.6" cy="595.4" r="1.8"/><circle cx="269.6" cy="592.8" r="1.8"/><circle cx="269" cy="595.6" r="1.8"/><circle cx="252.2" cy="594.2" r="1.8"/><circle cx="267.6" cy="593.1" r="1.8"/><circle cx="256" cy="595.9" r="1.8"/><circle cx="258.8" cy="594.3" r="1.8"/><circle cx="251.6" cy="596.4" r="1.8"/><circle cx="268.6" cy="596.5" r="1.8"/><circle cx="271.4" cy="595.9" r="1.8"/><circle cx="252.3" cy="592.4" r="1.8"/><circle cx="262.7" cy="592.6" r="1.8"/><circle cx="252.1" cy="593.8" r="1.8"/><circle cx="268.6" cy="595.4" r="1.8"/><circle cx="248.7" cy="593.8" r="1.8"/><circle cx="250" cy="593.5" r="1.8"/><circle cx="264.9" cy="595" r="1.8"/><circle cx="255" cy="594.1" r="1.8"/><circle cx="269.1" cy="593.2" r="1.8"/><circle cx="268.4" cy="596.6" r="1.8"/></g>
<rect x="246.5" y="587.8" width="25.4" height="4" rx="2" fill="none" stroke="#000" stroke-width="2"/>
<text x="145.6" y="474.4" font-size="13" text-anchor="middle">a</text>
<text x="202.5" y="575.6" font-size="13" text-anchor="middle">b</text>
<text x="259.5" y="575.6" font-size="13" text-anchor="middle">b</text>
<text x="145.8" y="435.8" font-size="11.1">ANOVA p &lt; 0.01</text>
<text x="290.6" y="442.6" font-size="24.3" font-weight="bold" text-anchor="end">b)</text>
<text transform="translate(16.2 501) rotate(-90)" font-size="18.6" text-anchor="middle">Total emissions</text>
<text transform="translate(40.4 500) rotate(-90)" font-size="18.6" text-anchor="middle">(kg C day<tspan font-size="12.5" dy="-7">-1</tspan><tspan dy="7">)</tspan></text>
<text x="156.9" y="620.9" font-size="21" text-anchor="end" transform="rotate(-45 156.9 620.9)">Sediment</text>
<text x="213.8" y="620.9" font-size="21" text-anchor="end" transform="rotate(-45 213.8 620.9)">Water</text>
<text x="270.8" y="620.9" font-size="21" text-anchor="end" transform="rotate(-45 270.8 620.9)">Deadwood</text>
<path d="M359.2,453.6 V419 H544.4 V453.6 M359.2,462.6 V603.6 H544.4 V462.6" fill="none" stroke="#1a1a1a" stroke-width="1.9" stroke-linecap="square"/>
<line x1="359.2" y1="454.2" x2="544.4" y2="454.2" stroke="#333" stroke-width="0.9" stroke-dasharray="2.8 1.9"/>
<line x1="359.2" y1="462.3" x2="544.4" y2="462.3" stroke="#333" stroke-width="0.9" stroke-dasharray="2.8 1.9"/>
<line x1="353.6" y1="458.7" x2="364.8" y2="447.7" stroke="#000" stroke-width="1.9"/>
<line x1="353.6" y1="468" x2="364.8" y2="457" stroke="#000" stroke-width="1.9"/>
<line x1="538.8" y1="458.9" x2="550" y2="447.9" stroke="#000" stroke-width="1.9"/>
<line x1="538.8" y1="468.1" x2="550" y2="457.1" stroke="#000" stroke-width="1.9"/>
<line x1="359.2" y1="424" x2="365.7" y2="424" stroke="#1a1a1a" stroke-width="1.7"/>
<text x="348.7" y="431" font-size="19.5" text-anchor="end">250</text>
<line x1="359.2" y1="443.1" x2="365.7" y2="443.1" stroke="#1a1a1a" stroke-width="1.7"/>
<text x="348.7" y="450.1" font-size="19.5" text-anchor="end">200</text>
<line x1="359.2" y1="473.02000000000004" x2="365.7" y2="473.02000000000004" stroke="#1a1a1a" stroke-width="1.7"/>
<text x="348.7" y="480" font-size="19.5" text-anchor="end">30</text>
<line x1="359.2" y1="503.11000000000007" x2="365.7" y2="503.11000000000007" stroke="#1a1a1a" stroke-width="1.7"/>
<text x="348.7" y="510.1" font-size="19.5" text-anchor="end">15</text>
<line x1="359.2" y1="533.2" x2="365.7" y2="533.2" stroke="#1a1a1a" stroke-width="1.7"/>
<text x="348.7" y="540.2" font-size="19.5" text-anchor="end">0</text>
<line x1="359.2" y1="563.2900000000001" x2="365.7" y2="563.2900000000001" stroke="#1a1a1a" stroke-width="1.7"/>
<text x="348.7" y="570.3" font-size="19.5" text-anchor="end">−15</text>
<line x1="359.2" y1="593.38" x2="365.7" y2="593.38" stroke="#1a1a1a" stroke-width="1.7"/>
<text x="348.7" y="600.4" font-size="19.5" text-anchor="end">−30</text>
<line x1="359.2" y1="533.2" x2="544.4" y2="533.2" stroke="#111" stroke-width="2.3" stroke-dasharray="7.8 8"/>
<line x1="376" y1="533.2" x2="411.4" y2="533.2" stroke="#000" stroke-width="2.2"/>
<rect x="379.5" y="531.6" width="28.6" height="3.2" rx="1.5" fill="#AC7425" stroke="#000" stroke-width="1.6"/>
<g fill="#AC7425" fill-opacity="0.45" stroke="#5a3c0c" stroke-opacity="0.5" stroke-width="0.5"><circle cx="399.1" cy="531.5" r="1.9"/><circle cx="391.1" cy="533.4" r="1.9"/><circle cx="403" cy="531.6" r="1.9"/><circle cx="393.6" cy="530.8" r="1.9"/><circle cx="386.6" cy="532.4" r="1.9"/><circle cx="394.8" cy="533.5" r="1.9"/><circle cx="396.8" cy="533.1" r="1.9"/><circle cx="390.5" cy="532.8" r="1.9"/><circle cx="397.1" cy="531.5" r="1.9"/><circle cx="399.8" cy="533.2" r="1.9"/><circle cx="394" cy="533.2" r="1.9"/><circle cx="393.7" cy="533" r="1.9"/><circle cx="401.2" cy="531.7" r="1.9"/><circle cx="397.7" cy="531.3" r="1.9"/><circle cx="394.1" cy="532.6" r="1.9"/><circle cx="403.5" cy="531.7" r="1.9"/><circle cx="386.4" cy="531" r="1.9"/><circle cx="399.8" cy="531.9" r="1.9"/><circle cx="386.2" cy="533.1" r="1.9"/><circle cx="396" cy="532.8" r="1.9"/><circle cx="387.8" cy="530.8" r="1.9"/><circle cx="392.3" cy="531.7" r="1.9"/><circle cx="399.6" cy="532.9" r="1.9"/><circle cx="399.9" cy="531.7" r="1.9"/><circle cx="400" cy="533.5" r="1.9"/><circle cx="387.8" cy="530.6" r="1.9"/><circle cx="393.4" cy="532.4" r="1.9"/><circle cx="387.5" cy="532.1" r="1.9"/><circle cx="395.4" cy="532.1" r="1.9"/><circle cx="393.6" cy="533.7" r="1.9"/><circle cx="383.4" cy="531.9" r="1.9"/><circle cx="395.7" cy="532.9" r="1.9"/><circle cx="398.3" cy="533" r="1.9"/><circle cx="395.2" cy="531.2" r="1.9"/><circle cx="401.8" cy="533.5" r="1.9"/><circle cx="386.6" cy="532.9" r="1.9"/><circle cx="385.9" cy="531.4" r="1.9"/><circle cx="383" cy="533" r="1.9"/><circle cx="393.5" cy="532.9" r="1.9"/><circle cx="392.2" cy="532" r="1.9"/><circle cx="392.3" cy="533.2" r="1.9"/><circle cx="388.4" cy="530.9" r="1.9"/><circle cx="400.2" cy="530.6" r="1.9"/><circle cx="384.2" cy="533.7" r="1.9"/><circle cx="402.6" cy="532.3" r="1.9"/></g>
<circle cx="400.9" cy="491.8" r="1.9" fill="#AC7425" fill-opacity="0.35" stroke="#8a6a30" stroke-opacity="0.5" stroke-width="0.5"/>
<line x1="451.7" y1="521" x2="451.7" y2="543.8" stroke="#000" stroke-width="2.2"/>
<line x1="437.3" y1="521" x2="465.9" y2="521" stroke="#222" stroke-width="1.4"/>
<line x1="437.3" y1="543.8" x2="465.9" y2="543.8" stroke="#222" stroke-width="1.4"/>
<rect x="437.2" y="528.4" width="29.2" height="6.8" fill="#5f8fc8" stroke="#000" stroke-width="2.6"/>
<g fill="#b4cdeb" fill-opacity="0.5" stroke="#5d89c0" stroke-opacity="0.8" stroke-width="0.6"><circle cx="439.4" cy="537.7" r="1.9"/><circle cx="452.7" cy="534.7" r="1.9"/><circle cx="449" cy="531.3" r="1.9"/><circle cx="445.2" cy="535.6" r="1.9"/><circle cx="451.4" cy="529.7" r="1.9"/><circle cx="455.3" cy="528.9" r="1.9"/><circle cx="452.8" cy="528.2" r="1.9"/><circle cx="454.6" cy="531.1" r="1.9"/><circle cx="453.1" cy="536.5" r="1.9"/><circle cx="459.7" cy="536.3" r="1.9"/><circle cx="463" cy="532.8" r="1.9"/><circle cx="447.5" cy="525.8" r="1.9"/><circle cx="447.9" cy="524.6" r="1.9"/><circle cx="461" cy="527.5" r="1.9"/><circle cx="447" cy="530.5" r="1.9"/><circle cx="456.9" cy="528.9" r="1.9"/><circle cx="456.4" cy="528.2" r="1.9"/><circle cx="456.2" cy="526" r="1.9"/><circle cx="462.9" cy="528.1" r="1.9"/><circle cx="459.5" cy="539.6" r="1.9"/><circle cx="443.3" cy="527.6" r="1.9"/><circle cx="454.6" cy="530.3" r="1.9"/><circle cx="451.4" cy="534.4" r="1.9"/><circle cx="453.2" cy="529.7" r="1.9"/><circle cx="448.4" cy="530.8" r="1.9"/><circle cx="446.4" cy="532.5" r="1.9"/><circle cx="457.7" cy="540.3" r="1.9"/><circle cx="452.4" cy="531.7" r="1.9"/><circle cx="445.2" cy="529.5" r="1.9"/><circle cx="445.5" cy="532.4" r="1.9"/><circle cx="447.3" cy="539.8" r="1.9"/><circle cx="443.7" cy="530" r="1.9"/><circle cx="451.9" cy="528.7" r="1.9"/><circle cx="442.5" cy="531.3" r="1.9"/><circle cx="440.9" cy="530.1" r="1.9"/><circle cx="441.1" cy="533.9" r="1.9"/><circle cx="441.9" cy="535.4" r="1.9"/><circle cx="456.6" cy="529.7" r="1.9"/><circle cx="442.2" cy="533.9" r="1.9"/><circle cx="450.4" cy="531.3" r="1.9"/><circle cx="458.2" cy="516.5" r="1.9"/><circle cx="451.1" cy="528.8" r="1.9"/><circle cx="443.4" cy="531.5" r="1.9"/><circle cx="460.5" cy="540" r="1.9"/><circle cx="460.6" cy="531.7" r="1.9"/><circle cx="440.7" cy="528.5" r="1.9"/><circle cx="445.6" cy="535.6" r="1.9"/><circle cx="451.8" cy="533.3" r="1.9"/><circle cx="458.8" cy="543" r="1.9"/><circle cx="449" cy="529.5" r="1.9"/><circle cx="456.9" cy="535.1" r="1.9"/><circle cx="445.5" cy="528.9" r="1.9"/><circle cx="456.9" cy="525.6" r="1.9"/><circle cx="447.4" cy="533" r="1.9"/><circle cx="447.5" cy="527.5" r="1.9"/><circle cx="457.9" cy="531" r="1.9"/><circle cx="460" cy="533.2" r="1.9"/><circle cx="459.6" cy="533.5" r="1.9"/><circle cx="453.2" cy="536.3" r="1.9"/><circle cx="449.7" cy="526" r="1.9"/><circle cx="456.6" cy="528" r="1.9"/><circle cx="454.6" cy="537" r="1.9"/><circle cx="459.7" cy="528.1" r="1.9"/><circle cx="459" cy="535.7" r="1.9"/><circle cx="442.5" cy="539.4" r="1.9"/><circle cx="448.6" cy="526.4" r="1.9"/><circle cx="455.7" cy="538.4" r="1.9"/><circle cx="445" cy="526.5" r="1.9"/><circle cx="443.9" cy="531.2" r="1.9"/><circle cx="439.7" cy="527.9" r="1.9"/><circle cx="453.7" cy="529.7" r="1.9"/><circle cx="462.4" cy="526.6" r="1.9"/><circle cx="463.1" cy="530.5" r="1.9"/><circle cx="442.7" cy="529.4" r="1.9"/><circle cx="456.2" cy="531" r="1.9"/><circle cx="449.6" cy="526.9" r="1.9"/><circle cx="454.8" cy="534.1" r="1.9"/><circle cx="449.1" cy="527.3" r="1.9"/><circle cx="462.2" cy="524.9" r="1.9"/><circle cx="463.5" cy="532.5" r="1.9"/><circle cx="440.6" cy="530.1" r="1.9"/><circle cx="456.8" cy="534.7" r="1.9"/><circle cx="442.3" cy="533.6" r="1.9"/><circle cx="440.4" cy="530.9" r="1.9"/><circle cx="446.4" cy="533.8" r="1.9"/><circle cx="457.2" cy="536.5" r="1.9"/><circle cx="463.6" cy="532.3" r="1.9"/><circle cx="442.3" cy="531.3" r="1.9"/><circle cx="447.5" cy="530.6" r="1.9"/><circle cx="440" cy="528.8" r="1.9"/><circle cx="452.6" cy="540.7" r="1.9"/><circle cx="451.2" cy="525.4" r="1.9"/><circle cx="448.5" cy="533" r="1.9"/><circle cx="446.9" cy="535.9" r="1.9"/><circle cx="458.9" cy="534" r="1.9"/><circle cx="459.9" cy="530.1" r="1.9"/><circle cx="446.3" cy="528" r="1.9"/><circle cx="449" cy="534" r="1.9"/><circle cx="454.5" cy="531.4" r="1.9"/><circle cx="458.1" cy="539.9" r="1.9"/><circle cx="463.3" cy="531.4" r="1.9"/><circle cx="448.9" cy="532.7" r="1.9"/><circle cx="456.3" cy="534.3" r="1.9"/><circle cx="452.7" cy="527.9" r="1.9"/><circle cx="458.9" cy="523.6" r="1.9"/><circle cx="443" cy="527.2" r="1.9"/><circle cx="443.7" cy="536" r="1.9"/><circle cx="442" cy="524.8" r="1.9"/><circle cx="462.2" cy="533.8" r="1.9"/><circle cx="445.5" cy="532.4" r="1.9"/><circle cx="451.3" cy="535" r="1.9"/><circle cx="442.3" cy="530" r="1.9"/><circle cx="447.3" cy="529.5" r="1.9"/><circle cx="439.9" cy="531.5" r="1.9"/><circle cx="453.2" cy="533.2" r="1.9"/><circle cx="442.9" cy="532.9" r="1.9"/><circle cx="454.7" cy="534.1" r="1.9"/><circle cx="446.1" cy="527.5" r="1.9"/><circle cx="445" cy="534.7" r="1.9"/><circle cx="451.2" cy="532.9" r="1.9"/><circle cx="448.3" cy="533.2" r="1.9"/><circle cx="445.7" cy="535.8" r="1.9"/><circle cx="440.7" cy="533.3" r="1.9"/><circle cx="441" cy="539.2" r="1.9"/><circle cx="461.2" cy="530.2" r="1.9"/><circle cx="446.9" cy="529.6" r="1.9"/><circle cx="441.3" cy="533.6" r="1.9"/><circle cx="443.9" cy="524.7" r="1.9"/><circle cx="451.2" cy="536.1" r="1.9"/><circle cx="463.7" cy="529.5" r="1.9"/><circle cx="444.3" cy="529.9" r="1.9"/><circle cx="460.6" cy="534.8" r="1.9"/><circle cx="451.2" cy="533.4" r="1.9"/><circle cx="449.5" cy="527.9" r="1.9"/><circle cx="459.1" cy="531.9" r="1.9"/><circle cx="449.1" cy="530.8" r="1.9"/><circle cx="440.8" cy="525.5" r="1.9"/><circle cx="452.8" cy="531.2" r="1.9"/><circle cx="455.4" cy="540.2" r="1.9"/><circle cx="454.6" cy="535.7" r="1.9"/><circle cx="446.2" cy="528.2" r="1.9"/><circle cx="462.3" cy="532.8" r="1.9"/><circle cx="460.5" cy="537.4" r="1.9"/><circle cx="463.7" cy="541.7" r="1.9"/><circle cx="450.2" cy="530.6" r="1.9"/><circle cx="459.7" cy="525" r="1.9"/><circle cx="457.1" cy="538.2" r="1.9"/><circle cx="443.7" cy="542.6" r="1.9"/><circle cx="440.1" cy="529.8" r="1.9"/><circle cx="443.5" cy="534.8" r="1.9"/><circle cx="442.3" cy="533.6" r="1.9"/><circle cx="441.2" cy="533.7" r="1.9"/><circle cx="448.2" cy="536.5" r="1.9"/><circle cx="457.8" cy="530.1" r="1.9"/><circle cx="447" cy="527.8" r="1.9"/><circle cx="451.9" cy="530.5" r="1.9"/><circle cx="439.7" cy="534.9" r="1.9"/><circle cx="444.5" cy="527.2" r="1.9"/><circle cx="462.8" cy="532.7" r="1.9"/><circle cx="439.7" cy="529.4" r="1.9"/><circle cx="452.3" cy="536.7" r="1.9"/><circle cx="459.2" cy="529.1" r="1.9"/><circle cx="458.7" cy="528.6" r="1.9"/><circle cx="457.3" cy="526" r="1.9"/><circle cx="449.1" cy="532.1" r="1.9"/><circle cx="459" cy="530.1" r="1.9"/><circle cx="459.6" cy="534.9" r="1.9"/><circle cx="458.1" cy="528" r="1.9"/><circle cx="463.5" cy="528.5" r="1.9"/><circle cx="441.9" cy="527" r="1.9"/><circle cx="462.6" cy="534" r="1.9"/><circle cx="449.2" cy="538" r="1.9"/><circle cx="456.6" cy="532.5" r="1.9"/><circle cx="445.5" cy="533.2" r="1.9"/><circle cx="461.6" cy="535.8" r="1.9"/><circle cx="440" cy="529.3" r="1.9"/><circle cx="453.5" cy="527.7" r="1.9"/><circle cx="444.9" cy="530.3" r="1.9"/><circle cx="448.9" cy="526.9" r="1.9"/><circle cx="448.4" cy="530.3" r="1.9"/><circle cx="455.4" cy="536.8" r="1.9"/><circle cx="459.2" cy="535" r="1.9"/><circle cx="448.3" cy="533.9" r="1.9"/><circle cx="455" cy="528.9" r="1.9"/><circle cx="448" cy="527.8" r="1.9"/><circle cx="446.2" cy="531.5" r="1.9"/><circle cx="461.5" cy="527.4" r="1.9"/><circle cx="447.2" cy="536.1" r="1.9"/><circle cx="441.7" cy="532.7" r="1.9"/><circle cx="447.6" cy="525.1" r="1.9"/><circle cx="457.5" cy="515.9" r="1.9"/><circle cx="444.6" cy="508" r="1.9"/><circle cx="457.5" cy="503.9" r="1.9"/><circle cx="452.7" cy="494.4" r="1.9"/><circle cx="456" cy="511" r="1.9"/><circle cx="443.7" cy="505" r="1.9"/><circle cx="442" cy="494.7" r="1.9"/><circle cx="442.9" cy="499.5" r="1.9"/><circle cx="447.9" cy="503.5" r="1.9"/><circle cx="449.9" cy="503.7" r="1.9"/><circle cx="439.6" cy="509.6" r="1.9"/><circle cx="451.7" cy="509.5" r="1.9"/><circle cx="449.2" cy="513.4" r="1.9"/><circle cx="447.2" cy="497.9" r="1.9"/><circle cx="452.5" cy="496.5" r="1.9"/><circle cx="462.6" cy="510.4" r="1.9"/><circle cx="444.4" cy="495.6" r="1.9"/><circle cx="460.9" cy="520.1" r="1.9"/><circle cx="447.2" cy="517.3" r="1.9"/><circle cx="457.8" cy="506.9" r="1.9"/><circle cx="442" cy="512.5" r="1.9"/><circle cx="463.5" cy="511" r="1.9"/><circle cx="449.9" cy="493.7" r="1.9"/><circle cx="462.9" cy="517" r="1.9"/><circle cx="444.8" cy="515.8" r="1.9"/><circle cx="449.4" cy="514.7" r="1.9"/><circle cx="456.6" cy="502.1" r="1.9"/><circle cx="443.7" cy="514.6" r="1.9"/></g>
<circle cx="441.8" cy="445.6" r="1.9" fill="#7AA5D6" fill-opacity="0.2" stroke="#7a9fcf" stroke-opacity="0.7" stroke-width="0.6"/>
<circle cx="459.9" cy="435.4" r="1.9" fill="#7AA5D6" fill-opacity="0.2" stroke="#7a9fcf" stroke-opacity="0.7" stroke-width="0.6"/>
<circle cx="461.8" cy="567.7" r="1.9" fill="#7AA5D6" fill-opacity="0.2" stroke="#7a9fcf" stroke-opacity="0.7" stroke-width="0.6"/>
<circle cx="457.5" cy="589.9" r="1.9" fill="#7AA5D6" fill-opacity="0.2" stroke="#7a9fcf" stroke-opacity="0.7" stroke-width="0.6"/>
<line x1="509.6" y1="505.9" x2="509.6" y2="545.2" stroke="#000" stroke-width="2.6"/>
<line x1="495.2" y1="505.9" x2="524" y2="505.9" stroke="#222" stroke-width="1.4"/>
<line x1="495.2" y1="545.2" x2="524" y2="545.2" stroke="#222" stroke-width="1.4"/>
<rect x="494.9" y="521" width="29.6" height="12.4" fill="#5AA86A" stroke="#000" stroke-width="2.2"/>
<g fill="#c8e8d0" fill-opacity="0.45" stroke="#5fae73" stroke-opacity="0.75" stroke-width="0.6"><circle cx="500.4" cy="534.5" r="1.95"/><circle cx="519.5" cy="518.7" r="1.95"/><circle cx="503.4" cy="508.2" r="1.95"/><circle cx="507.6" cy="532.6" r="1.95"/><circle cx="505.6" cy="538.1" r="1.95"/><circle cx="517.6" cy="531.3" r="1.95"/><circle cx="518.4" cy="506.5" r="1.95"/><circle cx="511.9" cy="539.4" r="1.95"/><circle cx="510.7" cy="520.4" r="1.95"/><circle cx="499.6" cy="530.4" r="1.95"/><circle cx="519.5" cy="520" r="1.95"/><circle cx="499.3" cy="536.9" r="1.95"/><circle cx="506.2" cy="521.1" r="1.95"/><circle cx="506.5" cy="510.5" r="1.95"/><circle cx="515.2" cy="511.7" r="1.95"/><circle cx="513.8" cy="520.6" r="1.95"/><circle cx="505.7" cy="525.5" r="1.95"/><circle cx="519.5" cy="523" r="1.95"/><circle cx="520.8" cy="540.8" r="1.95"/><circle cx="497.7" cy="512.5" r="1.95"/><circle cx="512.9" cy="518.3" r="1.95"/><circle cx="508.8" cy="527.5" r="1.95"/><circle cx="506.1" cy="519.2" r="1.95"/><circle cx="508.7" cy="528.8" r="1.95"/><circle cx="505" cy="530.2" r="1.95"/><circle cx="513.9" cy="536.2" r="1.95"/><circle cx="512.2" cy="521.7" r="1.95"/><circle cx="521.4" cy="522.8" r="1.95"/><circle cx="521.5" cy="525.1" r="1.95"/><circle cx="521.9" cy="544" r="1.95"/><circle cx="507" cy="520.7" r="1.95"/><circle cx="517.8" cy="527.8" r="1.95"/><circle cx="513.3" cy="522" r="1.95"/><circle cx="514.6" cy="522" r="1.95"/><circle cx="522" cy="508.8" r="1.95"/><circle cx="498.8" cy="539.3" r="1.95"/><circle cx="508.7" cy="526.9" r="1.95"/><circle cx="507.1" cy="506.4" r="1.95"/><circle cx="513.5" cy="516.4" r="1.95"/><circle cx="502.6" cy="533" r="1.95"/><circle cx="521.8" cy="516.4" r="1.95"/><circle cx="502.3" cy="506.5" r="1.95"/><circle cx="506.3" cy="529.5" r="1.95"/><circle cx="500.7" cy="511.3" r="1.95"/><circle cx="507" cy="540.3" r="1.95"/><circle cx="515.6" cy="506.5" r="1.95"/><circle cx="499.2" cy="526" r="1.95"/><circle cx="501.3" cy="536.1" r="1.95"/><circle cx="513.3" cy="512.4" r="1.95"/><circle cx="512.7" cy="519.8" r="1.95"/><circle cx="515.7" cy="508.6" r="1.95"/><circle cx="503.4" cy="512.8" r="1.95"/><circle cx="517.4" cy="514" r="1.95"/><circle cx="515.4" cy="525.2" r="1.95"/><circle cx="516.5" cy="506.4" r="1.95"/><circle cx="500.1" cy="542.7" r="1.95"/><circle cx="508.8" cy="511.2" r="1.95"/><circle cx="497.5" cy="517.4" r="1.95"/><circle cx="518.6" cy="535.4" r="1.95"/><circle cx="520.7" cy="513.7" r="1.95"/><circle cx="519.5" cy="527.5" r="1.95"/><circle cx="497.7" cy="524.3" r="1.95"/><circle cx="505.9" cy="511.4" r="1.95"/><circle cx="510.5" cy="537.6" r="1.95"/><circle cx="510.4" cy="534.3" r="1.95"/><circle cx="499.9" cy="520.1" r="1.95"/><circle cx="516.8" cy="542.4" r="1.95"/><circle cx="504.6" cy="523.5" r="1.95"/><circle cx="509.8" cy="514.4" r="1.95"/><circle cx="500.2" cy="526" r="1.95"/><circle cx="511.3" cy="535.8" r="1.95"/><circle cx="500.3" cy="513.9" r="1.95"/><circle cx="499.3" cy="511.8" r="1.95"/><circle cx="509.9" cy="515.1" r="1.95"/><circle cx="504.4" cy="523.7" r="1.95"/><circle cx="516.5" cy="509.8" r="1.95"/><circle cx="503.3" cy="514.1" r="1.95"/><circle cx="507.4" cy="539.3" r="1.95"/><circle cx="498.5" cy="530.9" r="1.95"/><circle cx="502.5" cy="541.3" r="1.95"/><circle cx="508.4" cy="543.8" r="1.95"/><circle cx="511.1" cy="531.7" r="1.95"/><circle cx="508.6" cy="511.4" r="1.95"/><circle cx="518.4" cy="512.6" r="1.95"/><circle cx="499.7" cy="540.6" r="1.95"/><circle cx="518.4" cy="538.1" r="1.95"/><circle cx="501" cy="530" r="1.95"/><circle cx="521.4" cy="512" r="1.95"/><circle cx="510.2" cy="521.1" r="1.95"/><circle cx="507.3" cy="510" r="1.95"/><circle cx="512.4" cy="542.4" r="1.95"/><circle cx="518.7" cy="506.6" r="1.95"/><circle cx="521.2" cy="537.1" r="1.95"/><circle cx="507.4" cy="520.6" r="1.95"/><circle cx="497.4" cy="510.9" r="1.95"/><circle cx="500.9" cy="516.8" r="1.95"/><circle cx="517.6" cy="537.5" r="1.95"/><circle cx="515.5" cy="519.1" r="1.95"/><circle cx="514.9" cy="528.4" r="1.95"/><circle cx="501" cy="544.6" r="1.95"/><circle cx="510.4" cy="532" r="1.95"/><circle cx="497.8" cy="532.9" r="1.95"/><circle cx="499.9" cy="520.6" r="1.95"/><circle cx="504.6" cy="534.3" r="1.95"/><circle cx="521.3" cy="521.6" r="1.95"/><circle cx="513.2" cy="518.1" r="1.95"/><circle cx="518.3" cy="538.2" r="1.95"/><circle cx="498.3" cy="540.2" r="1.95"/><circle cx="507.5" cy="518.1" r="1.95"/><circle cx="499.1" cy="527" r="1.95"/><circle cx="503.6" cy="540.2" r="1.95"/><circle cx="499.9" cy="540.7" r="1.95"/><circle cx="520.1" cy="508.4" r="1.95"/><circle cx="505.3" cy="521.4" r="1.95"/><circle cx="509.3" cy="531.3" r="1.95"/><circle cx="513.5" cy="537.6" r="1.95"/><circle cx="519.3" cy="506.3" r="1.95"/><circle cx="520.8" cy="518.2" r="1.95"/><circle cx="511.3" cy="516.4" r="1.95"/><circle cx="509.6" cy="531.1" r="1.95"/><circle cx="519.7" cy="533.1" r="1.95"/><circle cx="507" cy="529.3" r="1.95"/><circle cx="504.6" cy="539.5" r="1.95"/><circle cx="515.6" cy="520.5" r="1.95"/><circle cx="503.6" cy="528.6" r="1.95"/><circle cx="506.3" cy="473.9" r="1.95"/><circle cx="507.8" cy="489.5" r="1.95"/><circle cx="509" cy="487.7" r="1.95"/><circle cx="506.1" cy="485.8" r="1.95"/><circle cx="507.9" cy="469.2" r="1.95"/><circle cx="508.4" cy="491.9" r="1.95"/><circle cx="498.3" cy="478.3" r="1.95"/><circle cx="518" cy="496.2" r="1.95"/><circle cx="498.6" cy="483" r="1.95"/><circle cx="510.3" cy="494.3" r="1.95"/><circle cx="510.8" cy="471.9" r="1.95"/><circle cx="507.1" cy="494.2" r="1.95"/><circle cx="502.7" cy="472.5" r="1.95"/><circle cx="499.6" cy="479.3" r="1.95"/><circle cx="506.4" cy="487.8" r="1.95"/><circle cx="505" cy="469.5" r="1.95"/><circle cx="509.2" cy="490.3" r="1.95"/><circle cx="502.9" cy="476.8" r="1.95"/><circle cx="515.8" cy="482.2" r="1.95"/><circle cx="509.3" cy="488" r="1.95"/><circle cx="497.3" cy="502.7" r="1.95"/><circle cx="507.3" cy="489.1" r="1.95"/><circle cx="521.3" cy="494.4" r="1.95"/><circle cx="497.3" cy="488.3" r="1.95"/><circle cx="511.9" cy="468.7" r="1.95"/><circle cx="521.1" cy="494" r="1.95"/><circle cx="506.2" cy="478.6" r="1.95"/><circle cx="512.1" cy="479.5" r="1.95"/><circle cx="506.3" cy="495.8" r="1.95"/><circle cx="504.6" cy="489.4" r="1.95"/></g>
<text x="393.6" y="519" font-size="13" text-anchor="middle">a</text>
<text x="451.7" y="483" font-size="13" text-anchor="middle">ab</text>
<text x="509.3" y="451.3" font-size="13" text-anchor="middle">b</text>
<text x="365.7" y="433.9" font-size="11.2">ANOVA p = 0.03</text>
<text x="542" y="441.8" font-size="25" font-weight="bold" text-anchor="end">c)</text>
<text x="405.4" y="623" font-size="21" text-anchor="end" transform="rotate(-45 405.4 623)">Sediment</text>
<text x="463.5" y="623" font-size="21" text-anchor="end" transform="rotate(-45 463.5 623)">Water</text>
<text x="521.4" y="623" font-size="21" text-anchor="end" transform="rotate(-45 521.4 623)">Deadwood</text>
</svg>
</body></html>
